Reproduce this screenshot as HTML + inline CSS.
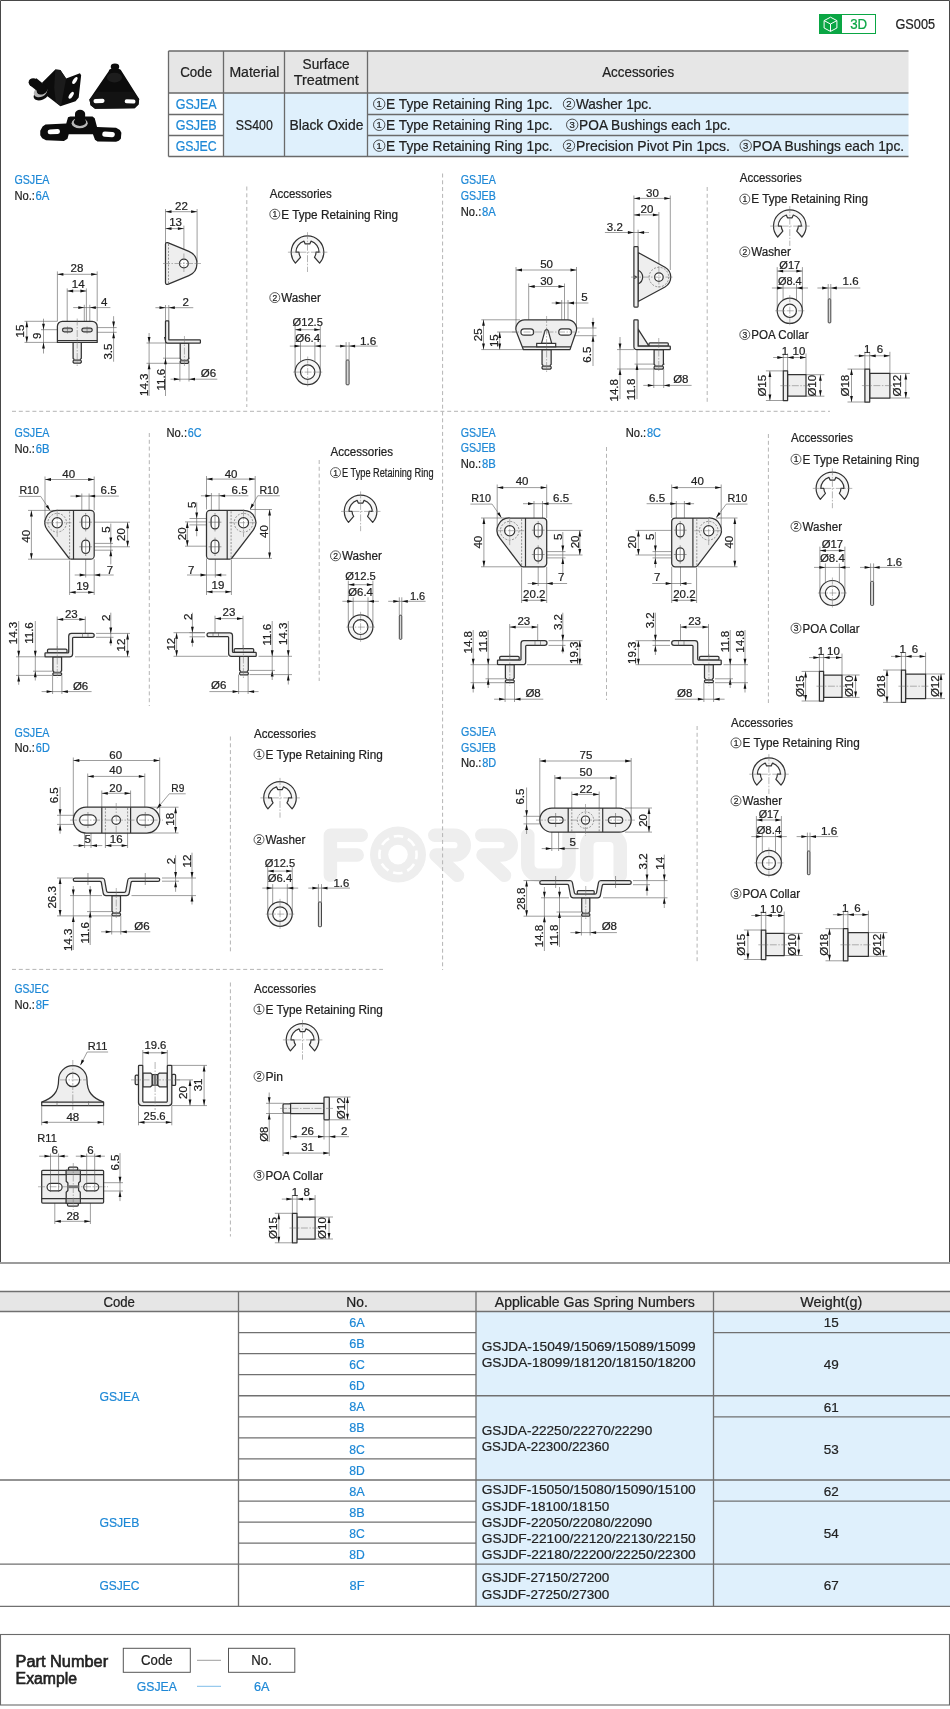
<!DOCTYPE html>
<html><head><meta charset="utf-8"><title>GS005</title><style>
html,body{margin:0;padding:0;background:#fff}
body{width:950px;height:1709px;overflow:hidden}
svg{display:block;will-change:transform;font-family:"Liberation Sans",sans-serif;fill:#222}
text{stroke:#222;stroke-width:.22px}
.t{stroke:#5a5a5a;stroke-width:.6;fill:none}
.o{stroke:#333;stroke-width:1.25;fill:#eee;stroke-linejoin:round}
.ol{stroke:#333;stroke-width:1.2;fill:#f5f5f5;stroke-linejoin:round}
.ow{stroke:#333;stroke-width:1.2;fill:#fff}
.on{stroke:#333;stroke-width:1.2;fill:none}
.a{fill:#111;stroke:none}
.c{stroke:#777;stroke-width:.55;fill:none;stroke-dasharray:7 1.5 1.5 1.5}
.d{stroke:#555;stroke-width:.6;fill:none;stroke-dasharray:2 1.4}
.sep{stroke:#b4b4b4;stroke-width:1;fill:none;stroke-dasharray:4 2.8}
</style></head><body>
<svg width="950" height="1709" viewBox="0 0 950 1709">
<path d="M0.5 1263V0.5H949.5V1263" fill="none" stroke="#484848" stroke-width="1"/>
<path d="M0 1263H950" fill="none" stroke="#9c9c9c" stroke-width="2"/>
<rect x="819.5" y="14.5" width="56" height="19" fill="#fff" stroke="#0aa644" stroke-width="1"/>
<rect x="819" y="14" width="23" height="20" fill="#0aa644"/>
<path d="M830.5 17.2l6.4 3.4v7.4l-6.4 3.4l-6.4-3.4v-7.4zM824.1 20.6l6.4 3.4l6.4-3.4M830.5 24v7.4" fill="none" stroke="#fff" stroke-width="1"/>
<text x="858.7" y="29.3" font-size="14.5" text-anchor="middle" textLength="17" lengthAdjust="spacingAndGlyphs" style="fill:#0aa644;stroke:#0aa644" stroke-width="0">3D</text>
<text x="895.5" y="29.3" font-size="14.5" textLength="39.5" lengthAdjust="spacingAndGlyphs">GS005</text>
<rect x="168.5" y="51" width="740.0" height="42" fill="#e6e6e6"/>
<rect x="223.5" y="93" width="685.0" height="63.5" fill="#dff0fc"/>
<path d="M168.5 51H908.5M168.5 93H908.5M168.5 156.5H908.5M168.5 114.5H223.5M168.5 135.5H223.5M367.5 114.5H908.5M367.5 135.5H908.5" stroke="#6a6a6a" stroke-width="1.3" fill="none"/>
<path d="M168.5 51V156.5M223.5 51V156.5M284.5 51V156.5M367.5 51V156.5" stroke="#6a6a6a" stroke-width="1.3" fill="none"/>
<text x="196.2" y="77.3" font-size="14.5" text-anchor="middle" textLength="32" lengthAdjust="spacingAndGlyphs">Code</text>
<text x="254.4" y="77.3" font-size="14.5" text-anchor="middle" textLength="50" lengthAdjust="spacingAndGlyphs">Material</text>
<text x="326.1" y="69" font-size="14.5" text-anchor="middle" textLength="47" lengthAdjust="spacingAndGlyphs">Surface</text>
<text x="326.3" y="85.4" font-size="14.5" text-anchor="middle" textLength="65" lengthAdjust="spacingAndGlyphs">Treatment</text>
<text x="638.2" y="77.3" font-size="14.5" text-anchor="middle" textLength="72" lengthAdjust="spacingAndGlyphs">Accessories</text>
<text x="196.2" y="108.7" font-size="14.5" text-anchor="middle" textLength="41" lengthAdjust="spacingAndGlyphs" style="fill:#1e88d6;stroke:#1e88d6">GSJEA</text>
<text x="196.2" y="129.6" font-size="14.5" text-anchor="middle" textLength="41" lengthAdjust="spacingAndGlyphs" style="fill:#1e88d6;stroke:#1e88d6">GSJEB</text>
<text x="196.2" y="150.5" font-size="14.5" text-anchor="middle" textLength="41" lengthAdjust="spacingAndGlyphs" style="fill:#1e88d6;stroke:#1e88d6">GSJEC</text>
<text x="254.3" y="129.6" font-size="14.5" text-anchor="middle" textLength="37" lengthAdjust="spacingAndGlyphs">SS400</text>
<text x="326.4" y="129.6" font-size="14.5" text-anchor="middle" textLength="74" lengthAdjust="spacingAndGlyphs">Black Oxide</text>
<circle cx="379.2" cy="103.9" r="5.7" fill="none" stroke="#333" stroke-width="0.85"/>
<text x="379.2" y="107.3" font-size="9.5" text-anchor="middle">1</text>
<text x="386.1" y="108.9" font-size="14.5" textLength="166.5" lengthAdjust="spacingAndGlyphs">E Type Retaining Ring 1pc.</text>
<circle cx="569.0" cy="103.9" r="5.7" fill="none" stroke="#333" stroke-width="0.85"/>
<text x="569.0" y="107.3" font-size="9.5" text-anchor="middle">2</text>
<text x="575.9" y="108.9" font-size="14.5" textLength="76" lengthAdjust="spacingAndGlyphs">Washer 1pc.</text>
<circle cx="379.2" cy="124.80000000000001" r="5.7" fill="none" stroke="#333" stroke-width="0.85"/>
<text x="379.2" y="128.2" font-size="9.5" text-anchor="middle">1</text>
<text x="386.1" y="129.8" font-size="14.5" textLength="166.5" lengthAdjust="spacingAndGlyphs">E Type Retaining Ring 1pc.</text>
<circle cx="572.2" cy="124.80000000000001" r="5.7" fill="none" stroke="#333" stroke-width="0.85"/>
<text x="572.2" y="128.2" font-size="9.5" text-anchor="middle">3</text>
<text x="579.1" y="129.8" font-size="14.5" textLength="151.5" lengthAdjust="spacingAndGlyphs">POA Bushings each 1pc.</text>
<circle cx="379.2" cy="145.7" r="5.7" fill="none" stroke="#333" stroke-width="0.85"/>
<text x="379.2" y="149.1" font-size="9.5" text-anchor="middle">1</text>
<text x="386.1" y="150.7" font-size="14.5" textLength="166.5" lengthAdjust="spacingAndGlyphs">E Type Retaining Ring 1pc.</text>
<circle cx="569.0" cy="145.7" r="5.7" fill="none" stroke="#333" stroke-width="0.85"/>
<text x="569.0" y="149.1" font-size="9.5" text-anchor="middle">2</text>
<text x="575.9" y="150.7" font-size="14.5" textLength="154" lengthAdjust="spacingAndGlyphs">Precision Pivot Pin 1pcs.</text>
<circle cx="745.7" cy="145.7" r="5.7" fill="none" stroke="#333" stroke-width="0.85"/>
<text x="745.7" y="149.1" font-size="9.5" text-anchor="middle">3</text>
<text x="752.6" y="150.7" font-size="14.5" textLength="151.5" lengthAdjust="spacingAndGlyphs">POA Bushings each 1pc.</text>
<g transform="translate(20,55) scale(0.13684)">
<path d="M161 203L258 106L295 109L337 171L438 134L447 148L429 310L406 338L295 374L258 346L198 300Z" fill="#0c0c0c"/>
<path d="M258 106L295 109L337 171L300 372L262 348L250 240Z" fill="#1b1b1b"/>
<ellipse cx="401" cy="186" rx="13" ry="29" transform="rotate(33 401 186)" fill="#fff"/>
<ellipse cx="374" cy="294" rx="13" ry="29" transform="rotate(33 374 294)" fill="#fff"/>
<ellipse cx="155" cy="292" rx="58" ry="36" transform="rotate(-22 155 292)" fill="#0c0c0c"/>
<ellipse cx="150" cy="268" rx="53" ry="37" transform="rotate(-28 150 268)" fill="#b4b4b4"/>
<ellipse cx="162" cy="256" rx="42" ry="30" transform="rotate(-28 162 256)" fill="#0c0c0c"/>
<path d="M68 218L120 170L196 232L150 284Z" fill="#0c0c0c"/><ellipse cx="97" cy="199" rx="34" ry="30" fill="#0c0c0c"/>
<path d="M652 108L668 98L718 98L736 108L871 322L866 362L838 390L548 392L516 367L507 325L648 118Z" fill="#0c0c0c"/>
<path d="M562 268L826 268L871 322L866 362L838 390L548 392L516 367L507 325Z" fill="#131313"/>
<rect x="537" y="320" width="81" height="31" rx="15" transform="rotate(-2 577 335)" fill="#fff"/>
<rect x="765" y="325" width="79" height="29" rx="14.5" transform="rotate(2 804 339)" fill="#fff"/>
<ellipse cx="690" cy="165" rx="55" ry="36" fill="#1d1d1d"/>
<ellipse cx="694" cy="86" rx="31" ry="23" fill="#0c0c0c"/>
<path d="M148 553L165 522L186 507L338 501L351 455L368 449L530 449L546 462L563 527L702 531L730 548L741 568L737 612L722 627L702 634L566 632L548 620L533 579L356 579L347 612L321 629L190 623L162 608L148 587Z" fill="#0c0c0c"/>
<rect x="202" y="543" width="90" height="35" rx="17" transform="rotate(-3 247 560)" fill="#fff"/>
<rect x="601" y="561" width="92" height="38" rx="19" transform="rotate(3 647 580)" fill="#fff"/>
<ellipse cx="436" cy="498" rx="59" ry="38" fill="#b9b9b9"/>
<ellipse cx="438" cy="490" rx="45" ry="28" fill="#0c0c0c"/>
<path d="M402 430L402 492L476 492L476 430Z" fill="#0c0c0c"/><ellipse cx="439" cy="430" rx="37" ry="29" fill="#0c0c0c"/>
</g>
<g fill="none" stroke="#eeeeee" stroke-width="13.5" stroke-linecap="round" stroke-linejoin="round">
<path d="M330.4 875.3V835.3H361.2M330.4 855H357.2"/>
<path d="M434.8 835.3H454.4a9.85 9.85 0 0 1 0 19.7H436L457.5 875.3"/>
<path d="M481.8 835.3H501.4a9.85 9.85 0 0 1 0 19.7H483L504.5 875.3"/>
<path d="M527.8 835.3V864.3a11 11 0 0 0 11 11H558a11 11 0 0 0 11 -11V835.3"/>
<path d="M586.8 875.3V846a10.7 10.7 0 0 1 10.7 -10.7H609.5a10.7 10.7 0 0 1 10.7 10.7V875.3"/>
</g>
<circle cx="398" cy="854.6" r="28" fill="#eeeeee"/>
<circle cx="398" cy="854.6" r="9.8" fill="#fff"/>
<circle cx="398" cy="854.6" r="18.6" fill="none" stroke="#fff" stroke-width="2.6" stroke-dasharray="9.6 5" stroke-dashoffset="4.8"/>
<path class="sep" d="M246.8 186.5L246.8 407"/>
<path class="sep" d="M442.6 173.5L442.6 970"/>
<path class="sep" d="M707.2 187L707.2 402"/>
<path class="sep" d="M12 411.3L830 411.3"/>
<text x="14.4" y="184.4" font-size="12" textLength="35" lengthAdjust="spacingAndGlyphs" style="fill:#1e88d6;stroke:#1e88d6">GSJEA</text>
<text x="14.4" y="199.8" font-size="12" textLength="20.5" lengthAdjust="spacingAndGlyphs">No.:</text>
<text x="35.6" y="199.8" font-size="12" textLength="13.8" lengthAdjust="spacingAndGlyphs" style="fill:#1e88d6;stroke:#1e88d6">6A</text>
<path class="t" d="M57.4 271.4L57.4 321.3"/>
<path class="t" d="M97.2 271.4L97.2 321.3"/>
<path class="t" d="M57.4 274.3L97.2 274.3"/>
<path class="a" d="M57.4 274.3l6.0 -1.4v2.8z"/>
<path class="a" d="M97.2 274.3l-6.0 -1.4v2.8z"/>
<text x="77" y="272.3" font-size="11.5" text-anchor="middle">28</text>
<path class="t" d="M67.2 288.4L67.2 329.7"/>
<path class="t" d="M86.4 288.4L86.4 329.7"/>
<path class="t" d="M67.2 291L86.4 291"/>
<path class="a" d="M67.2 291l6.0 -1.4v2.8z"/>
<path class="a" d="M86.4 291l-6.0 -1.4v2.8z"/>
<text x="78.2" y="287.9" font-size="11.5" text-anchor="middle">14</text>
<path class="t" d="M84.3 304.8L84.3 328"/>
<path class="t" d="M89.8 304.8L89.8 328"/>
<path class="t" d="M73.2 307.6L110.4 307.6"/>
<path class="a" d="M84.3 307.6l-6.0 -1.4v2.8z"/>
<path class="a" d="M89.8 307.6l6.0 -1.4v2.8z"/>
<text x="104.1" y="305.5" font-size="11.5" text-anchor="middle">4</text>
<path class="t" d="M24.5 321.3L57.4 321.3"/>
<path class="t" d="M24.5 342.4L57.4 342.4"/>
<path class="t" d="M26.8 321.3L26.8 342.4"/>
<path class="a" d="M26.8 321.3l-1.4 6.0h2.8z"/>
<path class="a" d="M26.8 342.4l-1.4 -6.0h2.8z"/>
<text transform="translate(19.5,331) rotate(-90)" y="4.1" font-size="11.5" text-anchor="middle">15</text>
<path class="t" d="M41 329.7L62 329.7"/>
<path class="t" d="M43.5 318.7L43.5 353.5"/>
<path class="a" d="M43.5 329.7l-1.4 -6.0h2.8z"/>
<path class="a" d="M43.5 342.4l-1.4 6.0h2.8z"/>
<text transform="translate(37.2,335.9) rotate(-90)" y="4.1" font-size="11.5" text-anchor="middle">9</text>
<path class="t" d="M92.7 327.6L116.7 327.6"/>
<path class="t" d="M92.7 332.3L116.7 332.3"/>
<path class="t" d="M113.6 316.2L113.6 361.7"/>
<path class="a" d="M113.6 327.6l-1.4 -6.0h2.8z"/>
<path class="a" d="M113.6 332.3l-1.4 6.0h2.8z"/>
<text transform="translate(107.9,351.6) rotate(-90)" y="4.1" font-size="11.5" text-anchor="middle">3.5</text>
<path class="o" d="M73.10000000000001 342.4V358.4l0.9 0.9v1l-0.9 0.7v1.2l0.8 0.8H80.5l0.8 -0.8v-1.2l-0.9 -0.7v-1l0.9 -0.9V342.4Z"/>
<rect x="74.00000000000001" y="359.3" width="6.4" height="1.9" fill="#666"/>
<path class="o" d="M57.4 342.4V326.3a5 5 0 0 1 5-5H92.2a5 5 0 0 1 5 5V342.4Z"/>
<path class="on" d="M57.4 340.5L97.2 340.5"/>
<rect class="ow" x="62.5" y="328.1" width="9.9" height="3.7" rx="1.85"/>
<rect class="ow" x="81.9" y="328.1" width="10.3" height="3.7" rx="1.85"/>
<path class="c" d="M77.2 318.5V366"/>
<path class="t" d="M62 329.95H73M81 329.95H93M67.45 326.5V333.5M87.05 326.5V333.5"/>
<path class="t" d="M165.5 209L165.5 243"/>
<path class="t" d="M197.1 209L197.1 262"/>
<path class="t" d="M165.5 211.7L197.1 211.7"/>
<path class="a" d="M165.5 211.7l6.0 -1.4v2.8z"/>
<path class="a" d="M197.1 211.7l-6.0 -1.4v2.8z"/>
<text x="181.4" y="210.4" font-size="11.5" text-anchor="middle">22</text>
<path class="t" d="M183.9 225.6L183.9 259"/>
<path class="t" d="M165.5 228.6L183.9 228.6"/>
<path class="a" d="M165.5 228.6l6.0 -1.4v2.8z"/>
<path class="a" d="M183.9 228.6l-6.0 -1.4v2.8z"/>
<text x="175.6" y="225.7" font-size="11.5" text-anchor="middle">13</text>
<path class="o" d="M165.5 244.2a1.7 1.7 0 0 1 2.2-1.6L188.9 251.4A13.2 13.2 0 0 1 188.9 275.7L167.7 284.4a1.7 1.7 0 0 1-2.2-1.6Z"/>
<circle class="ow" cx="183.9" cy="263.5" r="4.4"/>
<path class="d" d="M168.5 244L168.5 283"/>
<path class="c" d="M163 263.5H201M183.9 253.5V273.5"/>
<path class="t" d="M165.5 305L165.5 321"/>
<path class="t" d="M168.8 305L168.8 321"/>
<path class="t" d="M155.4 307.7L193.3 307.7"/>
<path class="a" d="M165.5 307.7l-6.0 -1.4v2.8z"/>
<path class="a" d="M168.8 307.7l6.0 -1.4v2.8z"/>
<text x="185.7" y="305.7" font-size="11.5" text-anchor="middle">2</text>
<path class="t" d="M146.5 343L180 343"/>
<path class="t" d="M146.5 363.3L180 363.3"/>
<path class="t" d="M149.1 333L149.1 396"/>
<path class="a" d="M149.1 343l-1.4 -6.0h2.8z"/>
<path class="a" d="M149.1 363.3l-1.4 6.0h2.8z"/>
<text transform="translate(143.5,384.8) rotate(-90)" y="4.1" font-size="11.5" text-anchor="middle">14.3</text>
<path class="t" d="M163 358.2L190 358.2"/>
<path class="t" d="M165.5 343L165.5 396"/>
<path class="a" d="M165.5 343l-1.4 -6.0h2.8z"/>
<path class="a" d="M165.5 358.2l-1.4 6.0h2.8z"/>
<text transform="translate(160.4,379.7) rotate(-90)" y="4.1" font-size="11.5" text-anchor="middle">11.6</text>
<path class="t" d="M179.9 363.3L179.9 381.5"/>
<path class="t" d="M189 363.3L189 381.5"/>
<path class="t" d="M170.5 379.2L217.3 379.2"/>
<path class="a" d="M179.9 379.2l-6.0 -1.4v2.8z"/>
<path class="a" d="M189 379.2l6.0 -1.4v2.8z"/>
<text x="208.4" y="377.2" font-size="11.5" text-anchor="middle">Ø6</text>
<path class="o" d="M180.2 343V358.7l0.9 0.9v1l-0.9 0.7v1.2l0.8 0.8H187.89999999999998l0.8 -0.8v-1.2l-0.9 -0.7v-1l0.9 -0.9V343Z"/>
<rect x="181.1" y="359.6" width="6.7" height="1.9" fill="#666"/>
<path class="o" d="M165.5 321.5a0.6 0.6 0 0 1 .6-.6H168.2a.6 .6 0 0 1 .6 .6V339.8H199.8a.6 .6 0 0 1 .6 .6V342.4a.6 .6 0 0 1-.6 .6H167.5a2 2 0 0 1-2-2Z"/>
<path class="c" d="M184.45 336V366"/>
<text x="269.8" y="197.9" font-size="12" textLength="61.9" lengthAdjust="spacingAndGlyphs">Accessories</text>
<circle cx="274.8" cy="214.2" r="5" fill="none" stroke="#333" stroke-width="0.8"/>
<text x="274.8" y="217.1" font-size="8.5" text-anchor="middle">1</text>
<text x="281.3" y="218.5" font-size="12" textLength="116.7" lengthAdjust="spacingAndGlyphs">E Type Retaining Ring</text>
<g transform="translate(307.5,252.2)"><path class="ol" d="M-12.1 10.9A16.3 16.3 0 1 1 12.1 10.9L6.95 5.05A8.6 8.6 0 0 0 8.5 0H11.6A11.6 11.6 0 0 0 3.5 -11.05L2.3 -8.3H-2.3L-3.5 -11.05A11.6 11.6 0 0 0 -11.6 0H-8.5A8.6 8.6 0 0 0 -6.95 5.05Z"/><path class="c" d="M-19.6 0H19.9M0 -20V19.8"/></g>
<circle cx="274.8" cy="297.59999999999997" r="5" fill="none" stroke="#333" stroke-width="0.8"/>
<text x="274.8" y="300.5" font-size="8.5" text-anchor="middle">2</text>
<text x="281.3" y="301.9" font-size="12" textLength="39.5" lengthAdjust="spacingAndGlyphs">Washer</text>
<text x="307.7" y="325.9" font-size="11.5" text-anchor="middle" textLength="30.3" lengthAdjust="spacingAndGlyphs">Ø12.5</text>
<path class="t" d="M295.09999999999997 325.7L295.09999999999997 372.1"/>
<path class="t" d="M320.3 325.7L320.3 372.1"/>
<path class="t" d="M295.09999999999997 329.7L320.3 329.7"/>
<path class="a" d="M295.09999999999997 329.7l6.0 -1.4v2.8z"/>
<path class="a" d="M320.3 329.7l-6.0 -1.4v2.8z"/>
<text x="307.7" y="341.9" font-size="11.5" text-anchor="middle" textLength="25" lengthAdjust="spacingAndGlyphs">Ø6.4</text>
<path class="t" d="M300.5 342.1L300.5 372.1"/>
<path class="t" d="M314.9 342.1L314.9 372.1"/>
<path class="t" d="M289.8 346.1L325.9 346.1"/>
<path class="a" d="M300.5 346.1l-6.0 -1.4v2.8z"/>
<path class="a" d="M314.9 346.1l6.0 -1.4v2.8z"/>
<circle class="ol" cx="307.7" cy="372.1" r="12.6"/>
<circle class="ow" cx="307.7" cy="372.1" r="7.2"/>
<path class="c" d="M293.09999999999997 372.1H322.3M307.7 356.5V387.70000000000005"/>
<path class="t" d="M346.1 342.1L346.1 360"/>
<path class="t" d="M349.1 342.1L349.1 360"/>
<path class="t" d="M335.5 346.1L377.7 346.1"/>
<path class="a" d="M346.1 346.1l-6.0 -1.4v2.8z"/>
<path class="a" d="M349.1 346.1l6.0 -1.4v2.8z"/>
<text x="360" y="344.8" font-size="11.5" textLength="16.4" lengthAdjust="spacingAndGlyphs">1.6</text>
<rect x="346.1" y="360" width="3.0" height="24.8" rx="0.8" fill="#d8d8d8" stroke="#333" stroke-width="0.9"/>
<text x="460.8" y="183.7" font-size="12" textLength="35" lengthAdjust="spacingAndGlyphs" style="fill:#1e88d6;stroke:#1e88d6">GSJEA</text>
<text x="460.8" y="199.8" font-size="12" textLength="35" lengthAdjust="spacingAndGlyphs" style="fill:#1e88d6;stroke:#1e88d6">GSJEB</text>
<text x="460.8" y="215.6" font-size="12" textLength="20.5" lengthAdjust="spacingAndGlyphs">No.:</text>
<text x="482" y="215.6" font-size="12" textLength="13.8" lengthAdjust="spacingAndGlyphs" style="fill:#1e88d6;stroke:#1e88d6">8A</text>
<path class="t" d="M516 267L516 330"/>
<path class="t" d="M576.5 267L576.5 330"/>
<path class="t" d="M516 270L576.5 270"/>
<path class="a" d="M516 270l6.0 -1.4v2.8z"/>
<path class="a" d="M576.5 270l-6.0 -1.4v2.8z"/>
<text x="546.6" y="268" font-size="11.5" text-anchor="middle">50</text>
<path class="t" d="M528.7 283.5L528.7 332"/>
<path class="t" d="M564.5 283.5L564.5 332"/>
<path class="t" d="M528.7 286.5L564.5 286.5"/>
<path class="a" d="M528.7 286.5l6.0 -1.4v2.8z"/>
<path class="a" d="M564.5 286.5l-6.0 -1.4v2.8z"/>
<text x="546.6" y="284.5" font-size="11.5" text-anchor="middle">30</text>
<path class="t" d="M561.7 300L561.7 330"/>
<path class="t" d="M568 300L568 330"/>
<path class="t" d="M551.7 303L588.4 303"/>
<path class="a" d="M561.7 303l-6.0 -1.4v2.8z"/>
<path class="a" d="M568 303l6.0 -1.4v2.8z"/>
<text x="584.4" y="300.8" font-size="11.5" text-anchor="middle">5</text>
<path class="t" d="M481.3 319.8L520 319.8"/>
<path class="t" d="M481.3 349.6L523.3 349.6"/>
<path class="t" d="M483.5 319.8L483.5 349.6"/>
<path class="a" d="M483.5 319.8l-1.4 6.0h2.8z"/>
<path class="a" d="M483.5 349.6l-1.4 -6.0h2.8z"/>
<text transform="translate(477.6,334.8) rotate(-90)" y="4.1" font-size="11.5" text-anchor="middle">25</text>
<path class="t" d="M497 332L527 332"/>
<path class="t" d="M499.7 332L499.7 349.6"/>
<path class="a" d="M499.7 332l-1.4 6.0h2.8z"/>
<path class="a" d="M499.7 349.6l-1.4 -6.0h2.8z"/>
<text transform="translate(493.5,340.7) rotate(-90)" y="4.1" font-size="11.5" text-anchor="middle">15</text>
<path class="t" d="M572 328L596.5 328"/>
<path class="t" d="M572 335.7L596.5 335.7"/>
<path class="t" d="M593 317.8L593 366"/>
<path class="a" d="M593 328l-1.4 -6.0h2.8z"/>
<path class="a" d="M593 335.7l-1.4 6.0h2.8z"/>
<text transform="translate(587.3,354.7) rotate(-90)" y="4.1" font-size="11.5" text-anchor="middle">6.5</text>
<path class="o" d="M542.0500000000001 349.6V364.4l0.9 0.9v1l-0.9 0.7v1.2l0.8 0.8H550.35l0.8 -0.8v-1.2l-0.9 -0.7v-1l0.9 -0.9V349.6Z"/>
<rect x="542.95" y="365.3" width="7.3" height="1.9" fill="#666"/>
<path class="o" d="M523.3 349.6L516.3 331.5A9 9 0 0 1 524.6 319.8H567.9A9 9 0 0 1 576.2 331.5L570 349.6Z"/>
<path class="on" d="M522.3 346.8L571 346.8"/>
<rect class="ow" x="520.9" y="328.8" width="12.8" height="6.4" rx="3.2"/>
<rect class="ow" x="558.7" y="328.8" width="12.8" height="6.4" rx="3.2"/>
<path class="ow" d="M546.6 329.2l1.6 1.4L551.7 343.4H541.5L545 330.6Z"/>
<rect class="ow" x="536.7" y="343.4" width="19" height="3.4"/>
<path class="c" d="M546.6 316V372M512 332H581"/>
<path class="t" d="M633.9 195.5L633.9 246.7"/>
<path class="t" d="M670.3 195.5L670.3 270"/>
<path class="t" d="M633.9 198.4L670.3 198.4"/>
<path class="a" d="M633.9 198.4l6.0 -1.4v2.8z"/>
<path class="a" d="M670.3 198.4l-6.0 -1.4v2.8z"/>
<text x="652.4" y="197" font-size="11.5" text-anchor="middle">30</text>
<path class="t" d="M658.9 212L658.9 272"/>
<path class="t" d="M633.9 214.9L658.9 214.9"/>
<path class="a" d="M633.9 214.9l6.0 -1.4v2.8z"/>
<path class="a" d="M658.9 214.9l-6.0 -1.4v2.8z"/>
<text x="647" y="213.2" font-size="11.5" text-anchor="middle">20</text>
<path class="t" d="M638.1 229.7L638.1 246.7"/>
<path class="t" d="M604.9 232.5L649 232.5"/>
<path class="a" d="M633.9 232.5l-6.0 -1.4v2.8z"/>
<path class="a" d="M638.1 232.5l6.0 -1.4v2.8z"/>
<text x="614.8" y="230.5" font-size="11.5" text-anchor="middle">3.2</text>
<path class="o" d="M638.1 252.5L665 267.2A11.4 11.4 0 0 1 665 287L638.1 301.5Z"/>
<rect class="o" x="633.9" y="246.7" width="4.2" height="60.3" rx="0.8"/>
<circle class="ow" cx="658.9" cy="277.1" r="4.3"/>
<circle class="d" cx="658.9" cy="277.1" r="9.8"/>
<path class="on" d="M638.1 270.2A7.5 7.5 0 0 1 638.1 284"/>
<path class="on" d="M634.3 275.8L636.4 277.1L634.3 278.4"/>
<path class="c" d="M631 277.1H674M658.9 266V288"/>
<path class="t" d="M617 349.6L634 349.6"/>
<path class="t" d="M617 369L654 369"/>
<path class="t" d="M620 337L620 399"/>
<path class="a" d="M620 349.6l-1.4 -6.0h2.8z"/>
<path class="a" d="M620 369l-1.4 6.0h2.8z"/>
<text transform="translate(614.3,390.3) rotate(-90)" y="4.1" font-size="11.5" text-anchor="middle">14.8</text>
<path class="t" d="M634.5 364.1L665 364.1"/>
<path class="t" d="M637 349.6L637 399"/>
<path class="a" d="M637 349.6l-1.4 -6.0h2.8z"/>
<path class="a" d="M637 364.1l-1.4 6.0h2.8z"/>
<text transform="translate(631.3,389.4) rotate(-90)" y="4.1" font-size="11.5" text-anchor="middle">11.8</text>
<path class="t" d="M653.8 369L653.8 388"/>
<path class="t" d="M663.7 369L663.7 388"/>
<path class="t" d="M643.3 385.4L691.6 385.4"/>
<path class="a" d="M653.8 385.4l-6.0 -1.4v2.8z"/>
<path class="a" d="M663.7 385.4l6.0 -1.4v2.8z"/>
<text x="680.8" y="383.2" font-size="11.5" text-anchor="middle">Ø8</text>
<path class="o" d="M654.1 349.6V364.4l0.9 0.9v1l-0.9 0.7v1.2l0.8 0.8H662.6l0.8 -0.8v-1.2l-0.9 -0.7v-1l0.9 -0.9V349.6Z"/>
<rect x="655.0" y="365.3" width="7.5" height="1.9" fill="#666"/>
<path class="o" d="M638.1 329.2L649 346.2H638.1Z"/>
<rect class="o" x="649" y="342.8" width="19.3" height="3.4" rx="1"/>
<path class="o" d="M633.9 320.4a.6 .6 0 0 1 .6-.6H637.5a.6 .6 0 0 1 .6 .6V346.2H669.7a.6 .6 0 0 1 .6 .6V349a.6 .6 0 0 1-.6 .6H637.1a3.2 3.2 0 0 1-3.2-3.2Z"/>
<path class="c" d="M658.75 338V372"/>
<text x="739.8" y="182.3" font-size="12" textLength="61.9" lengthAdjust="spacingAndGlyphs">Accessories</text>
<circle cx="744.8" cy="199.1" r="5" fill="none" stroke="#333" stroke-width="0.8"/>
<text x="744.8" y="202.0" font-size="8.5" text-anchor="middle">1</text>
<text x="751.3" y="203.4" font-size="12" textLength="116.7" lengthAdjust="spacingAndGlyphs">E Type Retaining Ring</text>
<g transform="translate(789.8,226.1)"><path class="ol" d="M-12.1 10.9A16.3 16.3 0 1 1 12.1 10.9L6.95 5.05A8.6 8.6 0 0 0 8.5 0H11.6A11.6 11.6 0 0 0 3.5 -11.05L2.3 -8.3H-2.3L-3.5 -11.05A11.6 11.6 0 0 0 -11.6 0H-8.5A8.6 8.6 0 0 0 -6.95 5.05Z"/><path class="c" d="M-19.6 0H19.9M0 -20V19.8"/></g>
<circle cx="744.8" cy="251.8" r="5" fill="none" stroke="#333" stroke-width="0.8"/>
<text x="744.8" y="254.7" font-size="8.5" text-anchor="middle">2</text>
<text x="751.3" y="256.1" font-size="12" textLength="39.5" lengthAdjust="spacingAndGlyphs">Washer</text>
<text x="789.8" y="268.6" font-size="11.5" text-anchor="middle" textLength="21" lengthAdjust="spacingAndGlyphs">Ø17</text>
<path class="t" d="M777.1999999999999 267.1L777.1999999999999 310.8"/>
<path class="t" d="M802.4 267.1L802.4 310.8"/>
<path class="t" d="M777.1999999999999 271.1L802.4 271.1"/>
<path class="a" d="M777.1999999999999 271.1l6.0 -1.4v2.8z"/>
<path class="a" d="M802.4 271.1l-6.0 -1.4v2.8z"/>
<text x="789.8" y="285" font-size="11.5" text-anchor="middle" textLength="23.8" lengthAdjust="spacingAndGlyphs">Ø8.4</text>
<path class="t" d="M783.0999999999999 284L783.0999999999999 310.8"/>
<path class="t" d="M796.5 284L796.5 310.8"/>
<path class="t" d="M771.9 288L808 288"/>
<path class="a" d="M783.0999999999999 288l-6.0 -1.4v2.8z"/>
<path class="a" d="M796.5 288l6.0 -1.4v2.8z"/>
<circle class="ol" cx="789.8" cy="310.8" r="12.6"/>
<circle class="ow" cx="789.8" cy="310.8" r="6.7"/>
<path class="c" d="M775.1999999999999 310.8H804.4M789.8 295.2V326.40000000000003"/>
<path class="t" d="M828.2 284L828.2 298.9"/>
<path class="t" d="M830.8 284L830.8 298.9"/>
<path class="t" d="M817.4 288L860.3 288"/>
<path class="a" d="M828.2 288l-6.0 -1.4v2.8z"/>
<path class="a" d="M830.8 288l6.0 -1.4v2.8z"/>
<text x="842.6" y="285" font-size="11.5" textLength="16" lengthAdjust="spacingAndGlyphs">1.6</text>
<rect x="828.2" y="298.9" width="2.6" height="24.0" rx="0.8" fill="#d8d8d8" stroke="#333" stroke-width="0.9"/>
<circle cx="744.8" cy="334.59999999999997" r="5" fill="none" stroke="#333" stroke-width="0.8"/>
<text x="744.8" y="337.5" font-size="8.5" text-anchor="middle">3</text>
<text x="751.3" y="338.9" font-size="12" textLength="57.2" lengthAdjust="spacingAndGlyphs">POA Collar</text>
<path class="t" d="M783.3 353.5L783.3 370.9"/>
<path class="t" d="M787.6 353.5L787.6 370.9"/>
<path class="t" d="M806 353.5L806 374.7"/>
<path class="t" d="M773.2 357.5L806 357.5"/>
<path class="a" d="M783.3 357.5l-6.0 -1.4v2.8z"/>
<path class="a" d="M787.6 357.5l6.0 -1.4v2.8z"/>
<path class="a" d="M806 357.5l-6.0 -1.4v2.8z"/>
<text x="785" y="354.5" font-size="11.5" text-anchor="middle">1</text>
<text x="799" y="354.5" font-size="11.5" text-anchor="middle">10</text>
<path class="t" d="M765.9 370.9L783.3 370.9"/>
<path class="t" d="M765.9 400.5L783.3 400.5"/>
<path class="t" d="M769.9 370.9L769.9 400.5"/>
<path class="a" d="M769.9 370.9l-1.4 6.0h2.8z"/>
<path class="a" d="M769.9 400.5l-1.4 -6.0h2.8z"/>
<text transform="translate(762.3,385.7) rotate(-90)" y="4.1" font-size="11.5" text-anchor="middle">Ø15</text>
<path class="t" d="M806 374.7L824.4 374.7"/>
<path class="t" d="M806 396.2L824.4 396.2"/>
<path class="t" d="M820.4 374.7L820.4 396.2"/>
<path class="a" d="M820.4 374.7l-1.4 6.0h2.8z"/>
<path class="a" d="M820.4 396.2l-1.4 -6.0h2.8z"/>
<text transform="translate(811.8,385.7) rotate(-90)" y="4.1" font-size="11.5" text-anchor="middle">Ø10</text>
<rect class="o" x="787.6" y="374.7" width="18.4" height="21.5"/>
<rect class="o" x="783.3" y="370.9" width="4.3" height="29.6"/>
<path class="c" d="M780.3 385.7H809"/>
<path class="t" d="M864.9 351.8L864.9 369.1"/>
<path class="t" d="M869.7 351.8L869.7 369.1"/>
<path class="t" d="M889.9 351.8L889.9 373.4"/>
<path class="t" d="M854.5 355.8L889.9 355.8"/>
<path class="a" d="M864.9 355.8l-6.0 -1.4v2.8z"/>
<path class="a" d="M869.7 355.8l6.0 -1.4v2.8z"/>
<path class="a" d="M889.9 355.8l-6.0 -1.4v2.8z"/>
<text x="867.2" y="352.6" font-size="11.5" text-anchor="middle">1</text>
<text x="880" y="352.6" font-size="11.5" text-anchor="middle">6</text>
<path class="t" d="M847.5 369.1L864.9 369.1"/>
<path class="t" d="M847.5 402L864.9 402"/>
<path class="t" d="M851.5 369.1L851.5 402"/>
<path class="a" d="M851.5 369.1l-1.4 6.0h2.8z"/>
<path class="a" d="M851.5 402l-1.4 -6.0h2.8z"/>
<text transform="translate(844.7,385.6) rotate(-90)" y="4.1" font-size="11.5" text-anchor="middle">Ø18</text>
<path class="t" d="M889.9 373.4L909.8 373.4"/>
<path class="t" d="M889.9 398L909.8 398"/>
<path class="t" d="M905.8 373.4L905.8 398"/>
<path class="a" d="M905.8 373.4l-1.4 6.0h2.8z"/>
<path class="a" d="M905.8 398l-1.4 -6.0h2.8z"/>
<text transform="translate(897,385.6) rotate(-90)" y="4.1" font-size="11.5" text-anchor="middle">Ø12</text>
<rect class="o" x="869.7" y="373.4" width="20.2" height="24.6"/>
<rect class="o" x="864.9" y="369.1" width="4.8" height="32.9"/>
<path class="c" d="M861.9 385.6H892.9"/>
<path class="sep" d="M149.3 433L149.3 706"/>
<path class="sep" d="M319.2 460L319.2 681"/>
<path class="sep" d="M606.5 447L606.5 700"/>
<path class="sep" d="M768.4 434L768.4 703"/>
<text x="14.4" y="436.5" font-size="12" textLength="35" lengthAdjust="spacingAndGlyphs" style="fill:#1e88d6;stroke:#1e88d6">GSJEA</text>
<text x="14.4" y="452.7" font-size="12" textLength="20.5" lengthAdjust="spacingAndGlyphs">No.:</text>
<text x="35.8" y="452.7" font-size="12" textLength="13.8" lengthAdjust="spacingAndGlyphs" style="fill:#1e88d6;stroke:#1e88d6">6B</text>
<path class="t" d="M45 476.5L45 522"/>
<path class="t" d="M94.2 476.5L94.2 510.4"/>
<path class="t" d="M45 479.5L94.2 479.5"/>
<path class="a" d="M45 479.5l6.0 -1.4v2.8z"/>
<path class="a" d="M94.2 479.5l-6.0 -1.4v2.8z"/>
<text x="68.7" y="478.1" font-size="11.5" text-anchor="middle">40</text>
<text x="29.2" y="493.9" font-size="11.5" text-anchor="middle" textLength="19.5" lengthAdjust="spacingAndGlyphs">R10</text>
<path class="t" d="M18.7 496.4L40.7 496.4"/>
<path class="t" d="M40.7 496.4L49.9 510.2"/>
<path class="a" transform="translate(50.2,510.8) rotate(56)" d="M0 0l-6.0 -1.4v2.8z"/>
<path class="t" d="M81.8 493.5L81.8 517"/>
<path class="t" d="M89.1 493.5L89.1 517"/>
<path class="t" d="M70.4 496.1L118.8 496.1"/>
<path class="a" d="M81.8 496.1l-6.0 -1.4v2.8z"/>
<path class="a" d="M89.1 496.1l6.0 -1.4v2.8z"/>
<text x="108.6" y="494.4" font-size="11.5" text-anchor="middle">6.5</text>
<path class="t" d="M28 510.4L57 510.4"/>
<path class="t" d="M28 559.2L70 559.2"/>
<path class="t" d="M31.4 510.4L31.4 559.2"/>
<path class="a" d="M31.4 510.4l-1.4 6.0h2.8z"/>
<path class="a" d="M31.4 559.2l-1.4 -6.0h2.8z"/>
<text transform="translate(25.4,536.3) rotate(-90)" y="4.1" font-size="11.5" text-anchor="middle">40</text>
<path class="t" d="M90 522.2L130 522.2"/>
<path class="t" d="M90 546.8L130 546.8"/>
<path class="t" d="M127.6 522.2L127.6 546.8"/>
<path class="a" d="M127.6 522.2l-1.4 6.0h2.8z"/>
<path class="a" d="M127.6 546.8l-1.4 -6.0h2.8z"/>
<text transform="translate(121.3,534.6) rotate(-90)" y="4.1" font-size="11.5" text-anchor="middle">20</text>
<path class="t" d="M90 543.4L113 543.4"/>
<path class="t" d="M90 550.2L113 550.2"/>
<path class="t" d="M110.8 523.6L110.8 564.4"/>
<path class="a" d="M110.8 543.4l-1.4 -6.0h2.8z"/>
<path class="a" d="M110.8 550.2l-1.4 6.0h2.8z"/>
<text transform="translate(106,529.5) rotate(-90)" y="4.1" font-size="11.5" text-anchor="middle">5</text>
<path class="t" d="M85.7 556L85.7 577.5"/>
<path class="t" d="M94.2 559.2L94.2 595"/>
<path class="t" d="M74.7 575L113.7 575"/>
<path class="a" d="M85.7 575l-6.0 -1.4v2.8z"/>
<path class="a" d="M94.2 575l6.0 -1.4v2.8z"/>
<text x="110" y="573.6" font-size="11.5" text-anchor="middle">7</text>
<path class="t" d="M69.6 560.5L69.6 595"/>
<path class="t" d="M69.6 592.3L94.2 592.3"/>
<path class="a" d="M69.6 592.3l6.0 -1.4v2.8z"/>
<path class="a" d="M94.2 592.3l-6.0 -1.4v2.8z"/>
<text x="82.6" y="589.9" font-size="11.5" text-anchor="middle">19</text>
<path class="o" d="M57.2 510.4A12.2 12.2 0 0 0 47.48 530.08L68.8 558.0Q69.6 559.2 71.1 559.2H90.7a3.5 3.5 0 0 0 3.5 -3.5V513.9a3.5 3.5 0 0 0 -3.5 -3.5Z"/>
<path class="on" d="M73.5 510.4L73.5 559.2"/>
<path class="d" d="M69.6 511.4L69.6 558.2"/>
<circle class="d" cx="57.2" cy="522.7" r="9.3"/>
<circle class="ow" cx="57.2" cy="522.7" r="5.1"/>
<rect class="ow" x="81.8" y="515.5" width="7.8" height="13.4" rx="3.9"/>
<rect class="ow" x="81.8" y="540.1" width="7.8" height="13.4" rx="3.9"/>
<path class="c" d="M44.0 522.7H71.4M57.2 509.50000000000006V536.9000000000001"/>
<path class="t" d="M85.7 513.0V531.4000000000001M85.7 537.5999999999999V556.0M79.3 522.2H92.10000000000001M79.3 546.8H92.10000000000001"/>
<path class="t" d="M57.2 616.5L57.2 655"/>
<path class="t" d="M85.3 616.5L85.3 636"/>
<path class="t" d="M57.2 619.4L85.3 619.4"/>
<path class="a" d="M57.2 619.4l6.0 -1.4v2.8z"/>
<path class="a" d="M85.3 619.4l-6.0 -1.4v2.8z"/>
<text x="71.3" y="617.8" font-size="11.5" text-anchor="middle">23</text>
<path class="t" d="M96 633.4L130 633.4"/>
<path class="t" d="M96 637.3L113.5 637.3"/>
<path class="t" d="M110.8 612.7L110.8 645.7"/>
<path class="a" d="M110.8 633.4l-1.4 -6.0h2.8z"/>
<path class="a" d="M110.8 637.3l-1.4 6.0h2.8z"/>
<text transform="translate(106,617.8) rotate(-90)" y="4.1" font-size="11.5" text-anchor="middle">2</text>
<path class="t" d="M75 656.8L130 656.8"/>
<path class="t" d="M127.6 633.4L127.6 656.8"/>
<path class="a" d="M127.6 633.4l-1.4 6.0h2.8z"/>
<path class="a" d="M127.6 656.8l-1.4 -6.0h2.8z"/>
<text transform="translate(121.3,645) rotate(-90)" y="4.1" font-size="11.5" text-anchor="middle">12</text>
<path class="t" d="M16 656.8L45 656.8"/>
<path class="t" d="M16 675.4L52.6 675.4"/>
<path class="t" d="M18.7 621L18.7 684.8"/>
<path class="a" d="M18.7 656.8l-1.4 -6.0h2.8z"/>
<path class="a" d="M18.7 675.4l-1.4 6.0h2.8z"/>
<text transform="translate(12.7,633) rotate(-90)" y="4.1" font-size="11.5" text-anchor="middle">14.3</text>
<path class="t" d="M33 671.2L52.6 671.2"/>
<path class="t" d="M35.3 621L35.3 680.5"/>
<path class="a" d="M35.3 656.8l-1.4 -6.0h2.8z"/>
<path class="a" d="M35.3 671.2l-1.4 6.0h2.8z"/>
<text transform="translate(28.8,633) rotate(-90)" y="4.1" font-size="11.5" text-anchor="middle">11.6</text>
<path class="t" d="M52.6 675.4L52.6 694"/>
<path class="t" d="M61.9 675.4L61.9 694"/>
<path class="t" d="M41.6 691.6L91.6 691.6"/>
<path class="a" d="M52.6 691.6l-6.0 -1.4v2.8z"/>
<path class="a" d="M61.9 691.6l6.0 -1.4v2.8z"/>
<text x="80.6" y="689.5" font-size="11.5" text-anchor="middle">Ø6</text>
<path class="o" d="M52.9 656.8V670.8l0.9 0.9v1l-0.9 0.7v1.2l0.8 0.8H60.800000000000004l0.8 -0.8v-1.2l-0.9 -0.7v-1l0.9 -0.9V656.8Z"/>
<rect x="53.8" y="671.7" width="6.9" height="1.9" fill="#666"/>
<rect class="o" x="47.5" y="649.0" width="19.5" height="3.9" rx="1.2"/>
<path class="o" d="M92.25 633.4H71.5Q68.7 633.4 68.7 636.1999999999999V652.0Q68.7 652.9 67.8 652.9H45.6q-0.6 0 -0.6 0.6V656.1999999999999q0 0.6 0.6 0.6H69.8Q72.6 656.8 72.6 654.0V638.2Q72.6 637.3 73.5 637.3H92.25a1.95 1.95 0 0 0 0 -3.9Z"/>
<path class="c" d="M57.25 646V678"/>
<path class="t" d="M82.5 633.4V637.3M88 633.4V637.3"/>
<text x="166.5" y="436.7" font-size="12" textLength="20.5" lengthAdjust="spacingAndGlyphs">No.:</text>
<text x="187.8" y="436.7" font-size="12" textLength="13.8" lengthAdjust="spacingAndGlyphs" style="fill:#1e88d6;stroke:#1e88d6">6C</text>
<path class="t" d="M206.5 476L206.5 509.5"/>
<path class="t" d="M255.2 476L255.2 522"/>
<path class="t" d="M206.5 479.1L255.2 479.1"/>
<path class="a" d="M206.5 479.1l6.0 -1.4v2.8z"/>
<path class="a" d="M255.2 479.1l-6.0 -1.4v2.8z"/>
<text x="231.1" y="477.5" font-size="11.5" text-anchor="middle">40</text>
<path class="t" d="M211.4 493L211.4 516"/>
<path class="t" d="M219.1 493L219.1 516"/>
<path class="t" d="M200.9 495.8L248.4 495.8"/>
<path class="a" d="M211.4 495.8l-6.0 -1.4v2.8z"/>
<path class="a" d="M219.1 495.8l6.0 -1.4v2.8z"/>
<text x="239.6" y="493.9" font-size="11.5" text-anchor="middle">6.5</text>
<text x="269.2" y="493.9" font-size="11.5" text-anchor="middle" textLength="19.5" lengthAdjust="spacingAndGlyphs">R10</text>
<path class="t" d="M257.7 495.8L279.8 495.8"/>
<path class="t" d="M257.7 495.8L250.3 509"/>
<path class="a" transform="translate(250,509.5) rotate(119)" d="M0 0l-6.0 -1.4v2.8z"/>
<path class="t" d="M189.5 518.5L211 518.5"/>
<path class="t" d="M189.5 524.9L211 524.9"/>
<path class="t" d="M196.7 502.4L196.7 536.3"/>
<path class="a" d="M196.7 518.5l-1.4 -6.0h2.8z"/>
<path class="a" d="M196.7 524.9l-1.4 6.0h2.8z"/>
<text transform="translate(191.9,504.9) rotate(-90)" y="4.1" font-size="11.5" text-anchor="middle">5</text>
<path class="t" d="M185 521.9L211 521.9"/>
<path class="t" d="M185 546.2L211 546.2"/>
<path class="t" d="M187.3 521.9L187.3 546.2"/>
<path class="a" d="M187.3 521.9l-1.4 6.0h2.8z"/>
<path class="a" d="M187.3 546.2l-1.4 -6.0h2.8z"/>
<text transform="translate(181.4,533.8) rotate(-90)" y="4.1" font-size="11.5" text-anchor="middle">20</text>
<path class="t" d="M250 509.5L272 509.5"/>
<path class="t" d="M232 558.4L272 558.4"/>
<path class="t" d="M269.6 509.5L269.6 558.4"/>
<path class="a" d="M269.6 509.5l-1.4 6.0h2.8z"/>
<path class="a" d="M269.6 558.4l-1.4 -6.0h2.8z"/>
<text transform="translate(264,531.6) rotate(-90)" y="4.1" font-size="11.5" text-anchor="middle">40</text>
<path class="t" d="M206.5 558.4L206.5 595"/>
<path class="t" d="M215.3 556L215.3 577.5"/>
<path class="t" d="M187 575L226.3 575"/>
<path class="a" d="M206.5 575l-6.0 -1.4v2.8z"/>
<path class="a" d="M215.3 575l6.0 -1.4v2.8z"/>
<text x="191.2" y="573.6" font-size="11.5" text-anchor="middle">7</text>
<path class="t" d="M231.4 559.5L231.4 595"/>
<path class="t" d="M206.5 591.8L231.4 591.8"/>
<path class="a" d="M206.5 591.8l6.0 -1.4v2.8z"/>
<path class="a" d="M231.4 591.8l-6.0 -1.4v2.8z"/>
<text x="217.9" y="589" font-size="11.5" text-anchor="middle">19</text>
<g transform="translate(300.7,0) scale(-1,1)">
<path class="o" d="M57.2 510.4A12.2 12.2 0 0 0 47.48 530.08L68.8 558.0Q69.6 559.2 71.1 559.2H90.7a3.5 3.5 0 0 0 3.5 -3.5V513.9a3.5 3.5 0 0 0 -3.5 -3.5Z"/>
<path class="on" d="M73.5 510.4L73.5 559.2"/>
<path class="d" d="M69.6 511.4L69.6 558.2"/>
<circle class="d" cx="57.2" cy="522.7" r="9.3"/>
<circle class="ow" cx="57.2" cy="522.7" r="5.1"/>
<rect class="ow" x="81.8" y="515.5" width="7.8" height="13.4" rx="3.9"/>
<rect class="ow" x="81.8" y="540.1" width="7.8" height="13.4" rx="3.9"/>
<path class="c" d="M44.0 522.7H71.4M57.2 509.50000000000006V536.9000000000001"/>
<path class="t" d="M85.7 513.0V531.4000000000001M85.7 537.5999999999999V556.0M79.3 522.2H92.10000000000001M79.3 546.8H92.10000000000001"/>
</g>
<path class="t" d="M215 615.7L215 636"/>
<path class="t" d="M243 615.7L243 655"/>
<path class="t" d="M215 618.6L243 618.6"/>
<path class="a" d="M215 618.6l6.0 -1.4v2.8z"/>
<path class="a" d="M243 618.6l-6.0 -1.4v2.8z"/>
<text x="228.9" y="616.1" font-size="11.5" text-anchor="middle">23</text>
<path class="t" d="M189.5 632.7L205 632.7"/>
<path class="t" d="M189.5 636.8L205 636.8"/>
<path class="t" d="M192.4 612.7L192.4 646.6"/>
<path class="a" d="M192.4 632.7l-1.4 -6.0h2.8z"/>
<path class="a" d="M192.4 636.8l-1.4 6.0h2.8z"/>
<text transform="translate(188.2,616.9) rotate(-90)" y="4.1" font-size="11.5" text-anchor="middle">2</text>
<path class="t" d="M173.5 632.7L205 632.7"/>
<path class="t" d="M173.5 656.3L228 656.3"/>
<path class="t" d="M176.6 632.7L176.6 656.3"/>
<path class="a" d="M176.6 632.7l-1.4 6.0h2.8z"/>
<path class="a" d="M176.6 656.3l-1.4 -6.0h2.8z"/>
<text transform="translate(171.2,644.2) rotate(-90)" y="4.1" font-size="11.5" text-anchor="middle">12</text>
<path class="t" d="M258.5 656.3L292 656.3"/>
<path class="t" d="M249.5 670.4L275 670.4"/>
<path class="t" d="M272.2 621L272.2 680"/>
<path class="a" d="M272.2 656.3l-1.4 -6.0h2.8z"/>
<path class="a" d="M272.2 670.4l-1.4 6.0h2.8z"/>
<text transform="translate(267.1,634.7) rotate(-90)" y="4.1" font-size="11.5" text-anchor="middle">11.6</text>
<path class="t" d="M249.5 674.6L292 674.6"/>
<path class="t" d="M288.3 621L288.3 684.5"/>
<path class="a" d="M288.3 656.3l-1.4 -6.0h2.8z"/>
<path class="a" d="M288.3 674.6l-1.4 6.0h2.8z"/>
<text transform="translate(283.2,633.9) rotate(-90)" y="4.1" font-size="11.5" text-anchor="middle">14.3</text>
<path class="t" d="M238.6 674.6L238.6 694"/>
<path class="t" d="M248.1 674.6L248.1 694"/>
<path class="t" d="M209.4 691.6L258.6 691.6"/>
<path class="a" d="M238.6 691.6l-6.0 -1.4v2.8z"/>
<path class="a" d="M248.1 691.6l6.0 -1.4v2.8z"/>
<text x="218.7" y="689.4" font-size="11.5" text-anchor="middle">Ø6</text>
<g transform="translate(301.2,0) scale(-1,1)">
<path class="o" d="M52.9 656.3V670.3l0.9 0.9v1l-0.9 0.7v1.2l0.8 0.8H60.800000000000004l0.8 -0.8v-1.2l-0.9 -0.7v-1l0.9 -0.9V656.3Z"/>
<rect x="53.8" y="671.2" width="6.9" height="1.9" fill="#666"/>
<rect class="o" x="47.5" y="648.5" width="19.5" height="3.9" rx="1.2"/>
<path class="o" d="M92.25 632.8H71.5Q68.7 632.8 68.7 635.5999999999999V651.5Q68.7 652.4 67.8 652.4H45.6q-0.6 0 -0.6 0.6V655.6999999999999q0 0.6 0.6 0.6H69.8Q72.6 656.3 72.6 653.5V637.6Q72.6 636.7 73.5 636.7H92.25a1.95 1.95 0 0 0 0 -3.9Z"/>
</g>
<path class="c" d="M243.4 645V678"/>
<path class="t" d="M213 632.8V636.7M218.5 632.8V636.7"/>
<text x="330.5" y="455.8" font-size="12" textLength="62.5" lengthAdjust="spacingAndGlyphs">Accessories</text>
<circle cx="335.5" cy="472.59999999999997" r="5" fill="none" stroke="#333" stroke-width="0.8"/>
<text x="335.5" y="475.5" font-size="8.5" text-anchor="middle">1</text>
<text x="342.0" y="476.9" font-size="12" textLength="91.5" lengthAdjust="spacingAndGlyphs">E Type Retaining Ring</text>
<g transform="translate(360.6,511.4)"><path class="ol" d="M-12.1 10.9A16.3 16.3 0 1 1 12.1 10.9L6.95 5.05A8.6 8.6 0 0 0 8.5 0H11.6A11.6 11.6 0 0 0 3.5 -11.05L2.3 -8.3H-2.3L-3.5 -11.05A11.6 11.6 0 0 0 -11.6 0H-8.5A8.6 8.6 0 0 0 -6.95 5.05Z"/><path class="c" d="M-19.6 0H19.9M0 -20V19.8"/></g>
<circle cx="335.5" cy="555.8000000000001" r="5" fill="none" stroke="#333" stroke-width="0.8"/>
<text x="335.5" y="558.7" font-size="8.5" text-anchor="middle">2</text>
<text x="342.0" y="560.1" font-size="12" textLength="39.8" lengthAdjust="spacingAndGlyphs">Washer</text>
<text x="360.6" y="580.4" font-size="11.5" text-anchor="middle" textLength="30.5" lengthAdjust="spacingAndGlyphs">Ø12.5</text>
<path class="t" d="M348.3 580.7L348.3 627.1"/>
<path class="t" d="M372.90000000000003 580.7L372.90000000000003 627.1"/>
<path class="t" d="M348.3 584.7L372.90000000000003 584.7"/>
<path class="a" d="M348.3 584.7l6.0 -1.4v2.8z"/>
<path class="a" d="M372.90000000000003 584.7l-6.0 -1.4v2.8z"/>
<text x="360.6" y="596.3" font-size="11.5" text-anchor="middle" textLength="24.6" lengthAdjust="spacingAndGlyphs">Ø6.4</text>
<path class="t" d="M353.20000000000005 597.3L353.20000000000005 627.1"/>
<path class="t" d="M368.0 597.3L368.0 627.1"/>
<path class="t" d="M342.4 601.3L378.9 601.3"/>
<path class="a" d="M353.20000000000005 601.3l-6.0 -1.4v2.8z"/>
<path class="a" d="M368.0 601.3l6.0 -1.4v2.8z"/>
<circle class="ol" cx="360.6" cy="627.1" r="12.3"/>
<circle class="ow" cx="360.6" cy="627.1" r="7.4"/>
<path class="c" d="M346.3 627.1H374.90000000000003M360.6 611.8000000000001V642.4"/>
<path class="t" d="M399.3 597.3L399.3 615.2"/>
<path class="t" d="M401.8 597.3L401.8 615.2"/>
<path class="t" d="M388.2 601.3L425.6 601.3"/>
<path class="a" d="M399.3 601.3l-6.0 -1.4v2.8z"/>
<path class="a" d="M401.8 601.3l6.0 -1.4v2.8z"/>
<text x="409.9" y="599.7" font-size="11.5" textLength="15.3" lengthAdjust="spacingAndGlyphs">1.6</text>
<rect x="399.3" y="615.2" width="2.5" height="24.1" rx="0.8" fill="#d8d8d8" stroke="#333" stroke-width="0.9"/>
<text x="460.7" y="436.5" font-size="12" textLength="35" lengthAdjust="spacingAndGlyphs" style="fill:#1e88d6;stroke:#1e88d6">GSJEA</text>
<text x="460.7" y="452.4" font-size="12" textLength="35" lengthAdjust="spacingAndGlyphs" style="fill:#1e88d6;stroke:#1e88d6">GSJEB</text>
<text x="460.7" y="468.1" font-size="12" textLength="20.5" lengthAdjust="spacingAndGlyphs">No.:</text>
<text x="482" y="468.1" font-size="12" textLength="13.8" lengthAdjust="spacingAndGlyphs" style="fill:#1e88d6;stroke:#1e88d6">8B</text>
<path class="t" d="M497.2 484.5L497.2 530"/>
<path class="t" d="M546.7 484.5L546.7 518"/>
<path class="t" d="M497.2 487.6L546.7 487.6"/>
<path class="a" d="M497.2 487.6l6.0 -1.4v2.8z"/>
<path class="a" d="M546.7 487.6l-6.0 -1.4v2.8z"/>
<text x="522.1" y="485.4" font-size="11.5" text-anchor="middle">40</text>
<text x="481.2" y="501.9" font-size="11.5" text-anchor="middle" textLength="19.8" lengthAdjust="spacingAndGlyphs">R10</text>
<path class="t" d="M470.4 504.1L492.1 504.1"/>
<path class="t" d="M492.1 504.1L501.2 517.4"/>
<path class="a" transform="translate(501.6,518) rotate(56)" d="M0 0l-6.0 -1.4v2.8z"/>
<path class="t" d="M534 501L534 525"/>
<path class="t" d="M542.5 501L542.5 525"/>
<path class="t" d="M523 503.7L572.2 503.7"/>
<path class="a" d="M534 503.7l-6.0 -1.4v2.8z"/>
<path class="a" d="M542.5 503.7l6.0 -1.4v2.8z"/>
<text x="561.1" y="501.9" font-size="11.5" text-anchor="middle">6.5</text>
<path class="t" d="M481 518L510 518"/>
<path class="t" d="M481 566.8L522 566.8"/>
<path class="t" d="M483.9 518L483.9 566.8"/>
<path class="a" d="M483.9 518l-1.4 6.0h2.8z"/>
<path class="a" d="M483.9 566.8l-1.4 -6.0h2.8z"/>
<text transform="translate(478,542.2) rotate(-90)" y="4.1" font-size="11.5" text-anchor="middle">40</text>
<path class="t" d="M542 530.4L582.5 530.4"/>
<path class="t" d="M542 555L582.5 555"/>
<path class="t" d="M579.8 530.4L579.8 555"/>
<path class="a" d="M579.8 530.4l-1.4 6.0h2.8z"/>
<path class="a" d="M579.8 555l-1.4 -6.0h2.8z"/>
<text transform="translate(574.7,541.9) rotate(-90)" y="4.1" font-size="11.5" text-anchor="middle">20</text>
<path class="t" d="M542 551.6L565.5 551.6"/>
<path class="t" d="M542 557.9L565.5 557.9"/>
<path class="t" d="M562.8 532L562.8 573.5"/>
<path class="a" d="M562.8 551.6l-1.4 -6.0h2.8z"/>
<path class="a" d="M562.8 557.9l-1.4 6.0h2.8z"/>
<text transform="translate(557.7,536.8) rotate(-90)" y="4.1" font-size="11.5" text-anchor="middle">5</text>
<path class="t" d="M538.2 564L538.2 586"/>
<path class="t" d="M546.7 566.8L546.7 603"/>
<path class="t" d="M527.7 583.5L567.1 583.5"/>
<path class="a" d="M538.2 583.5l-6.0 -1.4v2.8z"/>
<path class="a" d="M546.7 583.5l6.0 -1.4v2.8z"/>
<text x="561.1" y="581.3" font-size="11.5" text-anchor="middle">7</text>
<path class="t" d="M521.6 567.5L521.6 603"/>
<path class="t" d="M521.6 600.3L546.7 600.3"/>
<path class="a" d="M521.6 600.3l6.0 -1.4v2.8z"/>
<path class="a" d="M546.7 600.3l-6.0 -1.4v2.8z"/>
<text x="534.3" y="598" font-size="11.5" text-anchor="middle">20.2</text>
<path class="o" d="M509.7 518A12.4 12.4 0 0 0 499.83 538.21L520.8000000000001 565.5999999999999Q521.6 566.8 523.1 566.8H543.2a3.5 3.5 0 0 0 3.5 -3.5V521.5a3.5 3.5 0 0 0 -3.5 -3.5Z"/>
<path class="on" d="M525.5 518L525.5 566.8"/>
<path class="d" d="M521.6 519L521.6 565.8"/>
<circle class="d" cx="509.7" cy="530.7" r="9.3"/>
<circle class="ow" cx="509.7" cy="530.7" r="5.1"/>
<rect class="ow" x="534.3" y="523.5" width="7.8" height="13.4" rx="3.9"/>
<rect class="ow" x="534.3" y="547.8" width="7.8" height="13.4" rx="3.9"/>
<path class="c" d="M496.3 530.7H524.1M509.7 517.3000000000001V545.1"/>
<path class="t" d="M538.2 521.0V539.4000000000001M538.2 545.3V563.7M531.8000000000001 530.2H544.6M531.8000000000001 554.5H544.6"/>
<path class="t" d="M509.7 624L509.7 663"/>
<path class="t" d="M537.7 624L537.7 644"/>
<path class="t" d="M509.7 627.1L537.7 627.1"/>
<path class="a" d="M509.7 627.1l6.0 -1.4v2.8z"/>
<path class="a" d="M537.7 627.1l-6.0 -1.4v2.8z"/>
<text x="523.8" y="625" font-size="11.5" text-anchor="middle">23</text>
<path class="t" d="M548.5 640.7L582.5 640.7"/>
<path class="t" d="M548.5 645.4L565.5 645.4"/>
<path class="t" d="M562.8 612.7L562.8 653.4"/>
<path class="a" d="M562.8 640.7l-1.4 -6.0h2.8z"/>
<path class="a" d="M562.8 645.4l-1.4 6.0h2.8z"/>
<text transform="translate(557.7,622) rotate(-90)" y="4.1" font-size="11.5" text-anchor="middle">3.2</text>
<path class="t" d="M527 664.7L582.5 664.7"/>
<path class="t" d="M579.8 640.7L579.8 664.7"/>
<path class="a" d="M579.8 640.7l-1.4 6.0h2.8z"/>
<path class="a" d="M579.8 664.7l-1.4 -6.0h2.8z"/>
<text transform="translate(573.9,652.7) rotate(-90)" y="4.1" font-size="11.5" text-anchor="middle">19.3</text>
<path class="t" d="M470.5 664.7L497.5 664.7"/>
<path class="t" d="M470.5 682.7L505 682.7"/>
<path class="t" d="M473.2 630L473.2 692.5"/>
<path class="a" d="M473.2 664.7l-1.4 -6.0h2.8z"/>
<path class="a" d="M473.2 682.7l-1.4 6.0h2.8z"/>
<text transform="translate(467.8,642.3) rotate(-90)" y="4.1" font-size="11.5" text-anchor="middle">14.8</text>
<path class="t" d="M485.5 678.8L505 678.8"/>
<path class="t" d="M488.2 630L488.2 688"/>
<path class="a" d="M488.2 664.7l-1.4 -6.0h2.8z"/>
<path class="a" d="M488.2 678.8l-1.4 6.0h2.8z"/>
<text transform="translate(482.6,641.5) rotate(-90)" y="4.1" font-size="11.5" text-anchor="middle">11.8</text>
<path class="t" d="M505.1 682.7L505.1 702"/>
<path class="t" d="M514.5 682.7L514.5 702"/>
<path class="t" d="M494.1 699.2L543.3 699.2"/>
<path class="a" d="M505.1 699.2l-6.0 -1.4v2.8z"/>
<path class="a" d="M514.5 699.2l6.0 -1.4v2.8z"/>
<text x="533.1" y="697" font-size="11.5" text-anchor="middle">Ø8</text>
<path class="o" d="M505.40000000000003 664.7V678.1l0.9 0.9v1l-0.9 0.7v1.2l0.8 0.8H513.4000000000001l0.8 -0.8v-1.2l-0.9 -0.7v-1l0.9 -0.9V664.7Z"/>
<rect x="506.3" y="679.0" width="7.0" height="1.9" fill="#666"/>
<rect class="o" x="499.7" y="656.3" width="19.5" height="3.7" rx="1.2"/>
<path class="o" d="M544.65 640.7H523.8Q521 640.7 521 643.5V659.1Q521 660.0 520.1 660.0H498.1q-0.6 0 -0.6 0.6V664.1q0 0.6 0.6 0.6H522.9Q525.7 664.7 525.7 661.9000000000001V646.3Q525.7 645.4 526.6 645.4H544.65a2.35 2.35 0 0 0 0 -4.7Z"/>
<path class="c" d="M509.8 654V686"/>
<path class="t" d="M535 640.7V645.4M540.5 640.7V645.4"/>
<text x="625.7" y="436.7" font-size="12" textLength="20.5" lengthAdjust="spacingAndGlyphs">No.:</text>
<text x="647" y="436.7" font-size="12" textLength="14" lengthAdjust="spacingAndGlyphs" style="fill:#1e88d6;stroke:#1e88d6">8C</text>
<path class="t" d="M671.7 484.5L671.7 518"/>
<path class="t" d="M721.2 484.5L721.2 530"/>
<path class="t" d="M671.7 487.6L721.2 487.6"/>
<path class="a" d="M671.7 487.6l6.0 -1.4v2.8z"/>
<path class="a" d="M721.2 487.6l-6.0 -1.4v2.8z"/>
<text x="697.5" y="485.4" font-size="11.5" text-anchor="middle">40</text>
<path class="t" d="M676.3 501L676.3 525"/>
<path class="t" d="M684.4 501L684.4 525"/>
<path class="t" d="M646.6 503.7L694.1 503.7"/>
<path class="a" d="M676.3 503.7l-6.0 -1.4v2.8z"/>
<path class="a" d="M684.4 503.7l6.0 -1.4v2.8z"/>
<text x="657.1" y="501.9" font-size="11.5" text-anchor="middle">6.5</text>
<text x="737.3" y="502.4" font-size="11.5" text-anchor="middle" textLength="19.8" lengthAdjust="spacingAndGlyphs">R10</text>
<path class="t" d="M726.3 504.1L747.5 504.1"/>
<path class="t" d="M726.3 504.1L716.5 517.2"/>
<path class="a" transform="translate(716.1,517.8) rotate(127)" d="M0 0l-6.0 -1.4v2.8z"/>
<path class="t" d="M635.5 530.4L680 530.4"/>
<path class="t" d="M635.5 555L680 555"/>
<path class="t" d="M638.4 530.4L638.4 555"/>
<path class="a" d="M638.4 530.4l-1.4 6.0h2.8z"/>
<path class="a" d="M638.4 555l-1.4 -6.0h2.8z"/>
<text transform="translate(632.1,542.2) rotate(-90)" y="4.1" font-size="11.5" text-anchor="middle">20</text>
<path class="t" d="M652.5 551.6L676 551.6"/>
<path class="t" d="M652.5 557.9L676 557.9"/>
<path class="t" d="M655.4 532L655.4 567.7"/>
<path class="a" d="M655.4 551.6l-1.4 -6.0h2.8z"/>
<path class="a" d="M655.4 557.9l-1.4 6.0h2.8z"/>
<text transform="translate(650.3,536.8) rotate(-90)" y="4.1" font-size="11.5" text-anchor="middle">5</text>
<path class="t" d="M716 518L737.5 518"/>
<path class="t" d="M698 566.8L737.5 566.8"/>
<path class="t" d="M734.8 518L734.8 566.8"/>
<path class="a" d="M734.8 518l-1.4 6.0h2.8z"/>
<path class="a" d="M734.8 566.8l-1.4 -6.0h2.8z"/>
<text transform="translate(729.2,542.2) rotate(-90)" y="4.1" font-size="11.5" text-anchor="middle">40</text>
<path class="t" d="M671.7 566.8L671.7 603"/>
<path class="t" d="M680.5 564L680.5 586"/>
<path class="t" d="M652.2 583.5L691.5 583.5"/>
<path class="a" d="M671.7 583.5l-6.0 -1.4v2.8z"/>
<path class="a" d="M680.5 583.5l6.0 -1.4v2.8z"/>
<text x="657.1" y="581.3" font-size="11.5" text-anchor="middle">7</text>
<path class="t" d="M696.6 567.5L696.6 603"/>
<path class="t" d="M671.7 600.3L696.6 600.3"/>
<path class="a" d="M671.7 600.3l6.0 -1.4v2.8z"/>
<path class="a" d="M696.6 600.3l-6.0 -1.4v2.8z"/>
<text x="684.4" y="598" font-size="11.5" text-anchor="middle">20.2</text>
<g transform="translate(1218.4,0) scale(-1,1)">
<path class="o" d="M509.7 518A12.4 12.4 0 0 0 499.83 538.21L520.8000000000001 565.5999999999999Q521.6 566.8 523.1 566.8H543.2a3.5 3.5 0 0 0 3.5 -3.5V521.5a3.5 3.5 0 0 0 -3.5 -3.5Z"/>
<path class="on" d="M525.5 518L525.5 566.8"/>
<path class="d" d="M521.6 519L521.6 565.8"/>
<circle class="d" cx="509.7" cy="530.7" r="9.3"/>
<circle class="ow" cx="509.7" cy="530.7" r="5.1"/>
<rect class="ow" x="534.3" y="523.5" width="7.8" height="13.4" rx="3.9"/>
<rect class="ow" x="534.3" y="547.8" width="7.8" height="13.4" rx="3.9"/>
<path class="c" d="M496.3 530.7H524.1M509.7 517.3000000000001V545.1"/>
<path class="t" d="M538.2 521.0V539.4000000000001M538.2 545.3V563.7M531.8000000000001 530.2H544.6M531.8000000000001 554.5H544.6"/>
</g>
<path class="t" d="M680.5 624L680.5 644"/>
<path class="t" d="M708.5 624L708.5 663"/>
<path class="t" d="M680.5 627.1L708.5 627.1"/>
<path class="a" d="M680.5 627.1l6.0 -1.4v2.8z"/>
<path class="a" d="M708.5 627.1l-6.0 -1.4v2.8z"/>
<text x="694.6" y="625" font-size="11.5" text-anchor="middle">23</text>
<path class="t" d="M652.5 640.7L670 640.7"/>
<path class="t" d="M652.5 645.4L670 645.4"/>
<path class="t" d="M655.4 612.7L655.4 655"/>
<path class="a" d="M655.4 640.7l-1.4 -6.0h2.8z"/>
<path class="a" d="M655.4 645.4l-1.4 6.0h2.8z"/>
<text transform="translate(650,620.3) rotate(-90)" y="4.1" font-size="11.5" text-anchor="middle">3.2</text>
<path class="t" d="M635.5 640.7L670 640.7"/>
<path class="t" d="M635.5 664.7L692 664.7"/>
<path class="t" d="M638.4 640.7L638.4 664.7"/>
<path class="a" d="M638.4 640.7l-1.4 6.0h2.8z"/>
<path class="a" d="M638.4 664.7l-1.4 -6.0h2.8z"/>
<text transform="translate(632.1,652.7) rotate(-90)" y="4.1" font-size="11.5" text-anchor="middle">19.3</text>
<path class="t" d="M723.5 664.7L748 664.7"/>
<path class="t" d="M715 678.8L733 678.8"/>
<path class="t" d="M730.2 630L730.2 688"/>
<path class="a" d="M730.2 664.7l-1.4 -6.0h2.8z"/>
<path class="a" d="M730.2 678.8l-1.4 6.0h2.8z"/>
<text transform="translate(724.6,641.5) rotate(-90)" y="4.1" font-size="11.5" text-anchor="middle">11.8</text>
<path class="t" d="M715 682.7L748 682.7"/>
<path class="t" d="M745 630L745 692.5"/>
<path class="a" d="M745 664.7l-1.4 -6.0h2.8z"/>
<path class="a" d="M745 682.7l-1.4 6.0h2.8z"/>
<text transform="translate(739.5,641.5) rotate(-90)" y="4.1" font-size="11.5" text-anchor="middle">14.8</text>
<path class="t" d="M703.9 682.7L703.9 702"/>
<path class="t" d="M713.6 682.7L713.6 702"/>
<path class="t" d="M674.9 699.2L724.6 699.2"/>
<path class="a" d="M703.9 699.2l-6.0 -1.4v2.8z"/>
<path class="a" d="M713.6 699.2l6.0 -1.4v2.8z"/>
<text x="684.7" y="697" font-size="11.5" text-anchor="middle">Ø8</text>
<g transform="translate(1218.7,0) scale(-1,1)">
<path class="o" d="M505.40000000000003 664.7V678.1l0.9 0.9v1l-0.9 0.7v1.2l0.8 0.8H513.4000000000001l0.8 -0.8v-1.2l-0.9 -0.7v-1l0.9 -0.9V664.7Z"/>
<rect x="506.3" y="679.0" width="7.0" height="1.9" fill="#666"/>
<rect class="o" x="499.7" y="656.3" width="19.5" height="3.7" rx="1.2"/>
<path class="o" d="M544.65 640.7H523.8Q521 640.7 521 643.5V659.1Q521 660.0 520.1 660.0H498.1q-0.6 0 -0.6 0.6V664.1q0 0.6 0.6 0.6H522.9Q525.7 664.7 525.7 661.9000000000001V646.3Q525.7 645.4 526.6 645.4H544.65a2.35 2.35 0 0 0 0 -4.7Z"/>
</g>
<path class="c" d="M708.9 654V686"/>
<path class="t" d="M678.5 640.7V645.4M684 640.7V645.4"/>
<text x="791" y="442.1" font-size="12" textLength="62" lengthAdjust="spacingAndGlyphs">Accessories</text>
<circle cx="796" cy="459.3" r="5" fill="none" stroke="#333" stroke-width="0.8"/>
<text x="796" y="462.2" font-size="8.5" text-anchor="middle">1</text>
<text x="802.5" y="463.6" font-size="12" textLength="116.9" lengthAdjust="spacingAndGlyphs">E Type Retaining Ring</text>
<g transform="translate(832.4,488.4)"><path class="ol" d="M-12.1 10.9A16.3 16.3 0 1 1 12.1 10.9L6.95 5.05A8.6 8.6 0 0 0 8.5 0H11.6A11.6 11.6 0 0 0 3.5 -11.05L2.3 -8.3H-2.3L-3.5 -11.05A11.6 11.6 0 0 0 -11.6 0H-8.5A8.6 8.6 0 0 0 -6.95 5.05Z"/><path class="c" d="M-19.6 0H19.9M0 -20V19.8"/></g>
<circle cx="796" cy="526.4000000000001" r="5" fill="none" stroke="#333" stroke-width="0.8"/>
<text x="796" y="529.3" font-size="8.5" text-anchor="middle">2</text>
<text x="802.5" y="530.7" font-size="12" textLength="39.5" lengthAdjust="spacingAndGlyphs">Washer</text>
<text x="832.4" y="547.5" font-size="11.5" text-anchor="middle" textLength="21.4" lengthAdjust="spacingAndGlyphs">Ø17</text>
<path class="t" d="M819.9 546.6L819.9 593"/>
<path class="t" d="M844.9 546.6L844.9 593"/>
<path class="t" d="M819.9 550.6L844.9 550.6"/>
<path class="a" d="M819.9 550.6l6.0 -1.4v2.8z"/>
<path class="a" d="M844.9 550.6l-6.0 -1.4v2.8z"/>
<text x="832.4" y="562.1" font-size="11.5" text-anchor="middle" textLength="25" lengthAdjust="spacingAndGlyphs">Ø8.4</text>
<path class="t" d="M825.4 563.4L825.4 593"/>
<path class="t" d="M839.4 563.4L839.4 593"/>
<path class="t" d="M814 567.4L850 567.4"/>
<path class="a" d="M825.4 567.4l-6.0 -1.4v2.8z"/>
<path class="a" d="M839.4 567.4l6.0 -1.4v2.8z"/>
<circle class="ol" cx="832.4" cy="593" r="12.5"/>
<circle class="ow" cx="832.4" cy="593" r="7"/>
<path class="c" d="M817.9 593H846.9M832.4 577.5V608.5"/>
<path class="t" d="M870.6 563.4L870.6 581.4"/>
<path class="t" d="M873.6 563.4L873.6 581.4"/>
<path class="t" d="M860 567.4L902.4 567.4"/>
<path class="a" d="M870.6 567.4l-6.0 -1.4v2.8z"/>
<path class="a" d="M873.6 567.4l6.0 -1.4v2.8z"/>
<text x="886.4" y="565.5" font-size="11.5" textLength="15.6" lengthAdjust="spacingAndGlyphs">1.6</text>
<rect x="870.6" y="581.4" width="3.0" height="24.0" rx="0.8" fill="#d8d8d8" stroke="#333" stroke-width="0.9"/>
<circle cx="796" cy="628.2" r="5" fill="none" stroke="#333" stroke-width="0.8"/>
<text x="796" y="631.1" font-size="8.5" text-anchor="middle">3</text>
<text x="802.5" y="632.5" font-size="12" textLength="57.1" lengthAdjust="spacingAndGlyphs">POA Collar</text>
<path class="t" d="M819.4 653.6L819.4 671.4"/>
<path class="t" d="M823.6 653.6L823.6 671.4"/>
<path class="t" d="M842 653.6L842 675"/>
<path class="t" d="M809 657.6L842 657.6"/>
<path class="a" d="M819.4 657.6l-6.0 -1.4v2.8z"/>
<path class="a" d="M823.6 657.6l6.0 -1.4v2.8z"/>
<path class="a" d="M842 657.6l-6.0 -1.4v2.8z"/>
<text x="821" y="655" font-size="11.5" text-anchor="middle">1</text>
<text x="833.4" y="655" font-size="11.5" text-anchor="middle">10</text>
<path class="t" d="M801.6 671.4L819.4 671.4"/>
<path class="t" d="M801.6 701L819.4 701"/>
<path class="t" d="M805.6 671.4L805.6 701"/>
<path class="a" d="M805.6 671.4l-1.4 6.0h2.8z"/>
<path class="a" d="M805.6 701l-1.4 -6.0h2.8z"/>
<text transform="translate(800,686.2) rotate(-90)" y="4.1" font-size="11.5" text-anchor="middle">Ø15</text>
<path class="t" d="M842 675L859.6 675"/>
<path class="t" d="M842 697.4L859.6 697.4"/>
<path class="t" d="M855.6 675L855.6 697.4"/>
<path class="a" d="M855.6 675l-1.4 6.0h2.8z"/>
<path class="a" d="M855.6 697.4l-1.4 -6.0h2.8z"/>
<text transform="translate(848.6,686.2) rotate(-90)" y="4.1" font-size="11.5" text-anchor="middle">Ø10</text>
<rect class="o" x="823.6" y="675" width="18.4" height="22.4"/>
<rect class="o" x="819.4" y="671.4" width="4.2" height="29.6"/>
<path class="c" d="M816.4 686.2H845"/>
<path class="t" d="M901.4 652.4L901.4 670"/>
<path class="t" d="M905.6 652.4L905.6 670"/>
<path class="t" d="M925.6 652.4L925.6 674"/>
<path class="t" d="M891 656.4L925.6 656.4"/>
<path class="a" d="M901.4 656.4l-6.0 -1.4v2.8z"/>
<path class="a" d="M905.6 656.4l6.0 -1.4v2.8z"/>
<path class="a" d="M925.6 656.4l-6.0 -1.4v2.8z"/>
<text x="902.6" y="653" font-size="11.5" text-anchor="middle">1</text>
<text x="915" y="653" font-size="11.5" text-anchor="middle">6</text>
<path class="t" d="M883 670L901.4 670"/>
<path class="t" d="M883 702.4L901.4 702.4"/>
<path class="t" d="M887 670L887 702.4"/>
<path class="a" d="M887 670l-1.4 6.0h2.8z"/>
<path class="a" d="M887 702.4l-1.4 -6.0h2.8z"/>
<text transform="translate(881,686.2) rotate(-90)" y="4.1" font-size="11.5" text-anchor="middle">Ø18</text>
<path class="t" d="M925.6 674L945 674"/>
<path class="t" d="M925.6 698.6L945 698.6"/>
<path class="t" d="M941 674L941 698.6"/>
<path class="a" d="M941 674l-1.4 6.0h2.8z"/>
<path class="a" d="M941 698.6l-1.4 -6.0h2.8z"/>
<text transform="translate(935,686.2) rotate(-90)" y="4.1" font-size="11.5" text-anchor="middle">Ø12</text>
<rect class="o" x="905.6" y="674" width="20.0" height="24.6"/>
<rect class="o" x="901.4" y="670" width="4.2" height="32.4"/>
<path class="c" d="M898.4 686.2H928.6"/>
<path class="sep" d="M230.4 736.5L230.4 951.5"/>
<path class="sep" d="M697.1 726L697.1 961.5"/>
<path class="sep" d="M12 969.4L383 969.4"/>
<text x="14.4" y="736.5" font-size="12" textLength="35" lengthAdjust="spacingAndGlyphs" style="fill:#1e88d6;stroke:#1e88d6">GSJEA</text>
<text x="14.4" y="751.7" font-size="12" textLength="20.5" lengthAdjust="spacingAndGlyphs">No.:</text>
<text x="35.8" y="751.7" font-size="12" textLength="14" lengthAdjust="spacingAndGlyphs" style="fill:#1e88d6;stroke:#1e88d6">6D</text>
<path class="t" d="M73.3 757.5L73.3 820"/>
<path class="t" d="M159.7 757.5L159.7 820"/>
<path class="t" d="M73.3 760.5L159.7 760.5"/>
<path class="a" d="M73.3 760.5l6.0 -1.4v2.8z"/>
<path class="a" d="M159.7 760.5l-6.0 -1.4v2.8z"/>
<text x="115.7" y="758.5" font-size="11.5" text-anchor="middle">60</text>
<path class="t" d="M87.7 773.5L87.7 820"/>
<path class="t" d="M144.8 773.5L144.8 820"/>
<path class="t" d="M87.7 776.4L144.8 776.4"/>
<path class="a" d="M87.7 776.4l6.0 -1.4v2.8z"/>
<path class="a" d="M144.8 776.4l-6.0 -1.4v2.8z"/>
<text x="115.7" y="774.4" font-size="11.5" text-anchor="middle">40</text>
<path class="t" d="M101.8 790.5L101.8 807"/>
<path class="t" d="M130.6 790.5L130.6 807"/>
<path class="t" d="M101.8 793.3L130.6 793.3"/>
<path class="a" d="M101.8 793.3l6.0 -1.4v2.8z"/>
<path class="a" d="M130.6 793.3l-6.0 -1.4v2.8z"/>
<text x="115.7" y="791.6" font-size="11.5" text-anchor="middle">20</text>
<text x="177.8" y="791.6" font-size="11.5" text-anchor="middle" textLength="13" lengthAdjust="spacingAndGlyphs">R9</text>
<path class="t" d="M169.3 793.8L185.7 793.8"/>
<path class="t" d="M169.3 793.8L157 808.6"/>
<path class="a" transform="translate(156.6,809.1) rotate(130)" d="M0 0l-6.0 -1.4v2.8z"/>
<path class="t" d="M57 815.3L86 815.3"/>
<path class="t" d="M57 824.4L86 824.4"/>
<path class="t" d="M60.1 787L60.1 833.7"/>
<path class="a" d="M60.1 815.3l-1.4 -6.0h2.8z"/>
<path class="a" d="M60.1 824.4l-1.4 6.0h2.8z"/>
<text transform="translate(54.3,795.3) rotate(-90)" y="4.1" font-size="11.5" text-anchor="middle">6.5</text>
<path class="t" d="M150 807.2L178.5 807.2"/>
<path class="t" d="M150 833L178.5 833"/>
<path class="t" d="M175.6 807.2L175.6 833"/>
<path class="a" d="M175.6 807.2l-1.4 6.0h2.8z"/>
<path class="a" d="M175.6 833l-1.4 -6.0h2.8z"/>
<text transform="translate(169.8,819.3) rotate(-90)" y="4.1" font-size="11.5" text-anchor="middle">18</text>
<path class="t" d="M84.6 826L84.6 848"/>
<path class="t" d="M91 826L91 848"/>
<path class="t" d="M73.3 845.6L102.3 845.6"/>
<path class="a" d="M84.6 845.6l-6.0 -1.4v2.8z"/>
<path class="a" d="M91 845.6l6.0 -1.4v2.8z"/>
<text x="87.7" y="843.1" font-size="11.5" text-anchor="middle">5</text>
<path class="t" d="M105.4 833L105.4 848"/>
<path class="t" d="M127.6 833L127.6 848"/>
<path class="t" d="M105.4 845.6L127.6 845.6"/>
<path class="a" d="M105.4 845.6l6.0 -1.4v2.8z"/>
<path class="a" d="M127.6 845.6l-6.0 -1.4v2.8z"/>
<text x="116.2" y="843.1" font-size="11.5" text-anchor="middle">16</text>
<rect class="o" x="73.3" y="807.2" width="86.4" height="25.8" rx="12.9"/>
<path class="on" d="M101.8 807.2L101.8 833"/>
<path class="on" d="M130.6 807.2L130.6 833"/>
<path class="d" d="M105.4 808L105.4 832.5"/>
<path class="d" d="M127.6 808L127.6 832.5"/>
<circle class="ow" cx="116.2" cy="820.1" r="4.3"/>
<rect class="ow" x="79.6" y="814.8" width="16.7" height="10.4" rx="5.2"/>
<rect class="ow" x="136.9" y="814.8" width="16.7" height="10.4" rx="5.2"/>
<path class="c" d="M70 820.1H163M116.2 803V837"/>
<path class="t" d="M87.95 812V828M145.25 812V828"/>
<path class="t" d="M162 878L196 878"/>
<path class="t" d="M162 881.2L179 881.2"/>
<path class="t" d="M175.6 855.2L175.6 891.8"/>
<path class="a" d="M175.6 878l-1.4 -6.0h2.8z"/>
<path class="a" d="M175.6 881.2l-1.4 6.0h2.8z"/>
<text transform="translate(170.5,861) rotate(-90)" y="4.1" font-size="11.5" text-anchor="middle">2</text>
<path class="t" d="M131.5 895.6L196 895.6"/>
<path class="t" d="M192 852.7L192 904.5"/>
<path class="a" d="M192 878l-1.4 -6.0h2.8z"/>
<path class="a" d="M192 895.6l-1.4 6.0h2.8z"/>
<text transform="translate(186.5,861) rotate(-90)" y="4.1" font-size="11.5" text-anchor="middle">12</text>
<path class="t" d="M57 878L73.3 878"/>
<path class="t" d="M57 915.9L111.7 915.9"/>
<path class="t" d="M60.1 878L60.1 915.9"/>
<path class="a" d="M60.1 878l-1.4 6.0h2.8z"/>
<path class="a" d="M60.1 915.9l-1.4 -6.0h2.8z"/>
<text transform="translate(51.8,897.4) rotate(-90)" y="4.1" font-size="11.5" text-anchor="middle">26.3</text>
<path class="t" d="M73.3 886L73.3 950"/>
<path class="a" d="M73.3 895.6l-1.4 -6.0h2.8z"/>
<path class="a" d="M73.3 915.9l-1.4 6.0h2.8z"/>
<path class="t" d="M70 895.6L102 895.6"/>
<text transform="translate(68.2,939.9) rotate(-90)" y="4.1" font-size="11.5" text-anchor="middle">14.3</text>
<path class="t" d="M87 911.6L111.7 911.6"/>
<path class="t" d="M90.2 886L90.2 945"/>
<path class="a" d="M90.2 895.6l-1.4 -6.0h2.8z"/>
<path class="a" d="M90.2 911.6l-1.4 6.0h2.8z"/>
<text transform="translate(84.6,932.8) rotate(-90)" y="4.1" font-size="11.5" text-anchor="middle">11.6</text>
<path class="t" d="M111.7 915.9L111.7 934.5"/>
<path class="t" d="M120.8 915.9L120.8 934.5"/>
<path class="t" d="M101.1 931.8L150.3 931.8"/>
<path class="a" d="M111.7 931.8l-6.0 -1.4v2.8z"/>
<path class="a" d="M120.8 931.8l6.0 -1.4v2.8z"/>
<text x="142" y="929.8" font-size="11.5" text-anchor="middle">Ø6</text>
<path class="o" d="M112.0 895.6V911.3l0.9 0.9v1l-0.9 0.7v1.2l0.8 0.8H119.7l0.8 -0.8v-1.2l-0.9 -0.7v-1l0.9 -0.9V895.6Z"/>
<rect x="112.9" y="912.2" width="6.7" height="1.9" fill="#666"/>
<path class="o" d="M74.95 878H102.3Q104.3 878 104.6 880L106.6 891.1Q106.9 892.3 108.1 892.3H124.3Q125.5 892.3 125.8 891.1L127.8 880Q128.1 878 130.1 878H158.04999999999998a1.65 1.65 0 0 1 0 3.3H132.4Q131.4 881.3 131.1 882.3L129.2 893.2Q128.8 895.6 126.4 895.6H106.0Q103.6 895.6 103.2 893.2L101.3 882.3Q101.0 881.3 100.0 881.3H74.95a1.65 1.65 0 0 1 0 -3.3Z"/>
<path class="c" d="M116.25 888V919"/>
<path class="t" d="M87.95 873V885M145.25 873V885"/>
<text x="254" y="738.3" font-size="12" textLength="61.9" lengthAdjust="spacingAndGlyphs">Accessories</text>
<circle cx="259" cy="754.3000000000001" r="5" fill="none" stroke="#333" stroke-width="0.8"/>
<text x="259" y="757.2" font-size="8.5" text-anchor="middle">1</text>
<text x="265.5" y="758.6" font-size="12" textLength="117.4" lengthAdjust="spacingAndGlyphs">E Type Retaining Ring</text>
<g transform="translate(280,797.9)"><path class="ol" d="M-12.1 10.9A16.3 16.3 0 1 1 12.1 10.9L6.95 5.05A8.6 8.6 0 0 0 8.5 0H11.6A11.6 11.6 0 0 0 3.5 -11.05L2.3 -8.3H-2.3L-3.5 -11.05A11.6 11.6 0 0 0 -11.6 0H-8.5A8.6 8.6 0 0 0 -6.95 5.05Z"/><path class="c" d="M-19.6 0H19.9M0 -20V19.8"/></g>
<circle cx="259" cy="839.6" r="5" fill="none" stroke="#333" stroke-width="0.8"/>
<text x="259" y="842.5" font-size="8.5" text-anchor="middle">2</text>
<text x="265.5" y="843.9" font-size="12" textLength="39.8" lengthAdjust="spacingAndGlyphs">Washer</text>
<text x="280" y="866.7" font-size="11.5" text-anchor="middle" textLength="30.3" lengthAdjust="spacingAndGlyphs">Ø12.5</text>
<path class="t" d="M267.75 867.1L267.75 914.1"/>
<path class="t" d="M292.25 867.1L292.25 914.1"/>
<path class="t" d="M267.75 871.1L292.25 871.1"/>
<path class="a" d="M267.75 871.1l6.0 -1.4v2.8z"/>
<path class="a" d="M292.25 871.1l-6.0 -1.4v2.8z"/>
<text x="280" y="882.4" font-size="11.5" text-anchor="middle" textLength="24.5" lengthAdjust="spacingAndGlyphs">Ø6.4</text>
<path class="t" d="M272.7 884.1L272.7 914.1"/>
<path class="t" d="M287.3 884.1L287.3 914.1"/>
<path class="t" d="M262.3 888.1L298.2 888.1"/>
<path class="a" d="M272.7 888.1l-6.0 -1.4v2.8z"/>
<path class="a" d="M287.3 888.1l6.0 -1.4v2.8z"/>
<circle class="ol" cx="280" cy="914.1" r="12.25"/>
<circle class="ow" cx="280" cy="914.1" r="7.3"/>
<path class="c" d="M265.75 914.1H294.25M280 898.85V929.35"/>
<path class="t" d="M318.4 884.1L318.4 902"/>
<path class="t" d="M321.5 884.1L321.5 902"/>
<path class="t" d="M308.3 888.1L350 888.1"/>
<path class="a" d="M318.4 888.1l-6.0 -1.4v2.8z"/>
<path class="a" d="M321.5 888.1l6.0 -1.4v2.8z"/>
<text x="333.6" y="886.9" font-size="11.5" textLength="15.7" lengthAdjust="spacingAndGlyphs">1.6</text>
<rect x="318.4" y="902" width="3.1" height="24.7" rx="0.8" fill="#d8d8d8" stroke="#333" stroke-width="0.9"/>
<text x="460.9" y="736.4" font-size="12" textLength="35" lengthAdjust="spacingAndGlyphs" style="fill:#1e88d6;stroke:#1e88d6">GSJEA</text>
<text x="460.9" y="751.5" font-size="12" textLength="35" lengthAdjust="spacingAndGlyphs" style="fill:#1e88d6;stroke:#1e88d6">GSJEB</text>
<text x="460.9" y="767" font-size="12" textLength="20.5" lengthAdjust="spacingAndGlyphs">No.:</text>
<text x="482.2" y="767" font-size="12" textLength="14" lengthAdjust="spacingAndGlyphs" style="fill:#1e88d6;stroke:#1e88d6">8D</text>
<path class="t" d="M539.8 758L539.8 820"/>
<path class="t" d="M631.2 758L631.2 820"/>
<path class="t" d="M539.8 761L631.2 761"/>
<path class="a" d="M539.8 761l6.0 -1.4v2.8z"/>
<path class="a" d="M631.2 761l-6.0 -1.4v2.8z"/>
<text x="586" y="758.9" font-size="11.5" text-anchor="middle">75</text>
<path class="t" d="M554.8 775L554.8 820"/>
<path class="t" d="M616.1 775L616.1 820"/>
<path class="t" d="M554.8 778L616.1 778"/>
<path class="a" d="M554.8 778l6.0 -1.4v2.8z"/>
<path class="a" d="M616.1 778l-6.0 -1.4v2.8z"/>
<text x="586" y="775.9" font-size="11.5" text-anchor="middle">50</text>
<path class="t" d="M571.8 791.5L571.8 808"/>
<path class="t" d="M599.2 791.5L599.2 808"/>
<path class="t" d="M571.8 794.4L599.2 794.4"/>
<path class="a" d="M571.8 794.4l6.0 -1.4v2.8z"/>
<path class="a" d="M599.2 794.4l-6.0 -1.4v2.8z"/>
<text x="586" y="792.6" font-size="11.5" text-anchor="middle">22</text>
<path class="t" d="M523.5 816.3L553 816.3"/>
<path class="t" d="M523.5 823.9L553 823.9"/>
<path class="t" d="M526.6 787.5L526.6 834"/>
<path class="a" d="M526.6 816.3l-1.4 -6.0h2.8z"/>
<path class="a" d="M526.6 823.9l-1.4 6.0h2.8z"/>
<text transform="translate(519.8,796.6) rotate(-90)" y="4.1" font-size="11.5" text-anchor="middle">6.5</text>
<path class="t" d="M625 808L652 808"/>
<path class="t" d="M625 832.1L652 832.1"/>
<path class="t" d="M649 808L649 832.1"/>
<path class="a" d="M649 808l-1.4 6.0h2.8z"/>
<path class="a" d="M649 832.1l-1.4 -6.0h2.8z"/>
<text transform="translate(642.4,820.4) rotate(-90)" y="4.1" font-size="11.5" text-anchor="middle">20</text>
<path class="t" d="M551.8 824L551.8 851"/>
<path class="t" d="M558.6 824L558.6 851"/>
<path class="t" d="M541.7 848.6L578.6 848.6"/>
<path class="a" d="M551.8 848.6l-6.0 -1.4v2.8z"/>
<path class="a" d="M558.6 848.6l6.0 -1.4v2.8z"/>
<text x="572.6" y="846.4" font-size="11.5" text-anchor="middle">5</text>
<rect class="o" x="539.8" y="808" width="91.4" height="24.1" rx="12.05"/>
<path class="on" d="M568.2 808L568.2 832.1"/>
<path class="on" d="M602.7 808L602.7 832.1"/>
<path class="d" d="M571.8 809L571.8 831.5"/>
<path class="d" d="M599.2 809L599.2 831.5"/>
<circle class="d" cx="585.5" cy="820.1" r="8.2"/>
<circle class="ow" cx="585.5" cy="820.1" r="4.1"/>
<rect class="ow" x="548.2" y="816.8" width="14.9" height="6.6" rx="3.3"/>
<rect class="ow" x="608.4" y="816.8" width="14.3" height="6.6" rx="3.3"/>
<path class="c" d="M536 820.1H635M585.5 804V836"/>
<path class="t" d="M555.65 813V827M615.55 813V827"/>
<path class="t" d="M633 880.6L667.5 880.6"/>
<path class="t" d="M633 884.7L650 884.7"/>
<path class="t" d="M647 854.6L647 895.6"/>
<path class="a" d="M647 880.6l-1.4 -6.0h2.8z"/>
<path class="a" d="M647 884.7l-1.4 6.0h2.8z"/>
<text transform="translate(642.9,861.4) rotate(-90)" y="4.1" font-size="11.5" text-anchor="middle">3.2</text>
<path class="t" d="M603 897.8L667.5 897.8"/>
<path class="t" d="M664.3 854.6L664.3 908"/>
<path class="a" d="M664.3 880.6l-1.4 -6.0h2.8z"/>
<path class="a" d="M664.3 897.8l-1.4 6.0h2.8z"/>
<text transform="translate(659.4,863.3) rotate(-90)" y="4.1" font-size="11.5" text-anchor="middle">14</text>
<path class="t" d="M523.5 880.6L539.8 880.6"/>
<path class="t" d="M523.5 916.2L581.4 916.2"/>
<path class="t" d="M526.6 880.6L526.6 916.2"/>
<path class="a" d="M526.6 880.6l-1.4 6.0h2.8z"/>
<path class="a" d="M526.6 916.2l-1.4 -6.0h2.8z"/>
<text transform="translate(520.6,898.9) rotate(-90)" y="4.1" font-size="11.5" text-anchor="middle">28.8</text>
<path class="t" d="M544.4 887L544.4 951"/>
<path class="a" d="M544.4 897.8l-1.4 -6.0h2.8z"/>
<path class="a" d="M544.4 916.2l-1.4 6.0h2.8z"/>
<path class="t" d="M541 897.8L569 897.8"/>
<text transform="translate(538.9,936.1) rotate(-90)" y="4.1" font-size="11.5" text-anchor="middle">14.8</text>
<path class="t" d="M556.5 912L581.4 912"/>
<path class="t" d="M559.5 887L559.5 947"/>
<path class="a" d="M559.5 897.8l-1.4 -6.0h2.8z"/>
<path class="a" d="M559.5 912l-1.4 6.0h2.8z"/>
<text transform="translate(554,935.3) rotate(-90)" y="4.1" font-size="11.5" text-anchor="middle">11.8</text>
<path class="t" d="M581.4 916.2L581.4 935.5"/>
<path class="t" d="M590.1 916.2L590.1 935.5"/>
<path class="t" d="M570.4 932.6L616.9 932.6"/>
<path class="a" d="M581.4 932.6l-6.0 -1.4v2.8z"/>
<path class="a" d="M590.1 932.6l6.0 -1.4v2.8z"/>
<text x="609.3" y="930.4" font-size="11.5" text-anchor="middle">Ø8</text>
<path class="o" d="M581.7 897.8V911.6l0.9 0.9v1l-0.9 0.7v1.2l0.8 0.8H589.0l0.8 -0.8v-1.2l-0.9 -0.7v-1l0.9 -0.9V897.8Z"/>
<rect x="582.6" y="912.5" width="6.3" height="1.9" fill="#666"/>
<rect class="o" x="577.3" y="890.7" width="16.9" height="3.6" rx="1"/>
<path class="o" d="M541.6999999999999 880.6H570.1Q572.1 880.6 572.4 882.6L574.4 892.8Q574.7 894.0 575.9 894.0H595.0Q596.2 894.0 596.5 892.8L598.5 882.6Q598.8 880.6 600.8 880.6H629.3000000000001a1.9 1.9 0 0 1 0 3.8H603.6Q602.6 884.4 602.3 885.4L600.4 895.4Q600.0 897.8 597.6 897.8H573.3Q570.9 897.8 570.5 895.4L568.6 885.4Q568.3 884.4 567.3 884.4H541.6999999999999a1.9 1.9 0 0 1 0 -3.8Z"/>
<path class="c" d="M585.75 886V919"/>
<path class="t" d="M555.65 876V888M615.55 876V888"/>
<text x="731" y="726.7" font-size="12" textLength="61.9" lengthAdjust="spacingAndGlyphs">Accessories</text>
<circle cx="736" cy="742.9000000000001" r="5" fill="none" stroke="#333" stroke-width="0.8"/>
<text x="736" y="745.8" font-size="8.5" text-anchor="middle">1</text>
<text x="742.5" y="747.2" font-size="12" textLength="117.2" lengthAdjust="spacingAndGlyphs">E Type Retaining Ring</text>
<g transform="translate(768.9,774.2)"><path class="ol" d="M-12.1 10.9A16.3 16.3 0 1 1 12.1 10.9L6.95 5.05A8.6 8.6 0 0 0 8.5 0H11.6A11.6 11.6 0 0 0 3.5 -11.05L2.3 -8.3H-2.3L-3.5 -11.05A11.6 11.6 0 0 0 -11.6 0H-8.5A8.6 8.6 0 0 0 -6.95 5.05Z"/><path class="c" d="M-19.6 0H19.9M0 -20V19.8"/></g>
<circle cx="736" cy="800.8000000000001" r="5" fill="none" stroke="#333" stroke-width="0.8"/>
<text x="736" y="803.7" font-size="8.5" text-anchor="middle">2</text>
<text x="742.5" y="805.1" font-size="12" textLength="39.6" lengthAdjust="spacingAndGlyphs">Washer</text>
<text x="768.9" y="817.7" font-size="11.5" text-anchor="middle" textLength="20.5" lengthAdjust="spacingAndGlyphs">Ø17</text>
<path class="t" d="M756.4 816L756.4 862.9"/>
<path class="t" d="M781.4 816L781.4 862.9"/>
<path class="t" d="M756.4 820L781.4 820"/>
<path class="a" d="M756.4 820l6.0 -1.4v2.8z"/>
<path class="a" d="M781.4 820l-6.0 -1.4v2.8z"/>
<text x="768.9" y="834" font-size="11.5" text-anchor="middle" textLength="25" lengthAdjust="spacingAndGlyphs">Ø8.4</text>
<path class="t" d="M762.3 832.6L762.3 862.9"/>
<path class="t" d="M775.5 832.6L775.5 862.9"/>
<path class="t" d="M751.3 836.6L786.8 836.6"/>
<path class="a" d="M762.3 836.6l-6.0 -1.4v2.8z"/>
<path class="a" d="M775.5 836.6l6.0 -1.4v2.8z"/>
<circle class="ol" cx="768.9" cy="862.9" r="12.5"/>
<circle class="ow" cx="768.9" cy="862.9" r="6.6"/>
<path class="c" d="M754.4 862.9H783.4M768.9 847.4V878.4"/>
<path class="t" d="M807.4 832.6L807.4 851"/>
<path class="t" d="M810 832.6L810 851"/>
<path class="t" d="M796.6 836.6L838.2 836.6"/>
<path class="a" d="M807.4 836.6l-6.0 -1.4v2.8z"/>
<path class="a" d="M810 836.6l6.0 -1.4v2.8z"/>
<text x="821" y="835.4" font-size="11.5" textLength="16.4" lengthAdjust="spacingAndGlyphs">1.6</text>
<rect x="807.4" y="851" width="2.6" height="23.7" rx="0.8" fill="#d8d8d8" stroke="#333" stroke-width="0.9"/>
<circle cx="736" cy="893.7" r="5" fill="none" stroke="#333" stroke-width="0.8"/>
<text x="736" y="896.6" font-size="8.5" text-anchor="middle">3</text>
<text x="742.5" y="898" font-size="12" textLength="57.5" lengthAdjust="spacingAndGlyphs">POA Collar</text>
<path class="t" d="M761.3 911.5L761.3 930"/>
<path class="t" d="M765.8 911.5L765.8 930"/>
<path class="t" d="M784.2 911.5L784.2 933.4"/>
<path class="t" d="M751.3 915.5L784.2 915.5"/>
<path class="a" d="M761.3 915.5l-6.0 -1.4v2.8z"/>
<path class="a" d="M765.8 915.5l6.0 -1.4v2.8z"/>
<path class="a" d="M784.2 915.5l-6.0 -1.4v2.8z"/>
<text x="763.2" y="912.9" font-size="11.5" text-anchor="middle">1</text>
<text x="776.3" y="912.9" font-size="11.5" text-anchor="middle">10</text>
<path class="t" d="M743.9 930L761.3 930"/>
<path class="t" d="M743.9 959.5L761.3 959.5"/>
<path class="t" d="M747.9 930L747.9 959.5"/>
<path class="a" d="M747.9 930l-1.4 6.0h2.8z"/>
<path class="a" d="M747.9 959.5l-1.4 -6.0h2.8z"/>
<text transform="translate(741.3,944.8) rotate(-90)" y="4.1" font-size="11.5" text-anchor="middle">Ø15</text>
<path class="t" d="M784.2 933.4L802.7 933.4"/>
<path class="t" d="M784.2 955.5L802.7 955.5"/>
<path class="t" d="M798.7 933.4L798.7 955.5"/>
<path class="a" d="M798.7 933.4l-1.4 6.0h2.8z"/>
<path class="a" d="M798.7 955.5l-1.4 -6.0h2.8z"/>
<text transform="translate(791.6,944.8) rotate(-90)" y="4.1" font-size="11.5" text-anchor="middle">Ø10</text>
<rect class="o" x="765.8" y="933.4" width="18.4" height="22.1"/>
<rect class="o" x="761.3" y="930" width="4.5" height="29.5"/>
<path class="c" d="M758.3 944.8H787.2"/>
<path class="t" d="M843.4 910.7L843.4 928.7"/>
<path class="t" d="M847.9 910.7L847.9 928.7"/>
<path class="t" d="M868.4 910.7L868.4 932.6"/>
<path class="t" d="M832.9 914.7L868.4 914.7"/>
<path class="a" d="M843.4 914.7l-6.0 -1.4v2.8z"/>
<path class="a" d="M847.9 914.7l6.0 -1.4v2.8z"/>
<path class="a" d="M868.4 914.7l-6.0 -1.4v2.8z"/>
<text x="845.3" y="911.6" font-size="11.5" text-anchor="middle">1</text>
<text x="857.4" y="911.6" font-size="11.5" text-anchor="middle">6</text>
<path class="t" d="M825.5 928.7L843.4 928.7"/>
<path class="t" d="M825.5 960.8L843.4 960.8"/>
<path class="t" d="M829.5 928.7L829.5 960.8"/>
<path class="a" d="M829.5 928.7l-1.4 6.0h2.8z"/>
<path class="a" d="M829.5 960.8l-1.4 -6.0h2.8z"/>
<text transform="translate(823.7,944.8) rotate(-90)" y="4.1" font-size="11.5" text-anchor="middle">Ø18</text>
<path class="t" d="M868.4 932.6L887.4 932.6"/>
<path class="t" d="M868.4 956.3L887.4 956.3"/>
<path class="t" d="M883.4 932.6L883.4 956.3"/>
<path class="a" d="M883.4 932.6l-1.4 6.0h2.8z"/>
<path class="a" d="M883.4 956.3l-1.4 -6.0h2.8z"/>
<text transform="translate(877.1,944.8) rotate(-90)" y="4.1" font-size="11.5" text-anchor="middle">Ø12</text>
<rect class="o" x="847.9" y="932.6" width="20.5" height="23.7"/>
<rect class="o" x="843.4" y="928.7" width="4.5" height="32.1"/>
<path class="c" d="M840.4 944.8H871.4"/>
<path class="sep" d="M230.4 982.5L230.4 1236.5"/>
<text x="14.4" y="993.3" font-size="12" textLength="34.5" lengthAdjust="spacingAndGlyphs" style="fill:#1e88d6;stroke:#1e88d6">GSJEC</text>
<text x="14.4" y="1008.7" font-size="12" textLength="20.5" lengthAdjust="spacingAndGlyphs">No.:</text>
<text x="35.8" y="1008.7" font-size="12" textLength="13.2" lengthAdjust="spacingAndGlyphs" style="fill:#1e88d6;stroke:#1e88d6">8F</text>
<text x="97.6" y="1050.3" font-size="11.5" text-anchor="middle" textLength="19.5" lengthAdjust="spacingAndGlyphs">R11</text>
<path class="t" d="M87.2 1052L108.1 1052"/>
<path class="t" d="M87.2 1052L80.6 1064.8"/>
<path class="a" transform="translate(80.3,1065.4) rotate(117)" d="M0 0l-6.0 -1.4v2.8z"/>
<path class="t" d="M41.7 1105.6L41.7 1125.3"/>
<path class="t" d="M103.6 1105.6L103.6 1125.3"/>
<path class="t" d="M41.7 1122.3L103.6 1122.3"/>
<path class="a" d="M41.7 1122.3l6.0 -1.4v2.8z"/>
<path class="a" d="M103.6 1122.3l-6.0 -1.4v2.8z"/>
<text x="72.8" y="1121" font-size="11.5" text-anchor="middle">48</text>
<path class="o" d="M41.7 1102.1C53 1098 58.6 1092 58.6 1079.9A14.2 14.2 0 0 1 87 1079.9C87 1092 92.5 1098 103.6 1102.1V1105.6H41.7Z"/>
<path class="on" d="M41.7 1102.1L103.6 1102.1"/>
<circle class="ow" cx="72.8" cy="1079.9" r="6.8"/>
<path class="c" d="M72.8 1060V1110M60 1079.9H86"/>
<path class="t" d="M57 1101V1106M88.6 1101V1106"/>
<path class="t" d="M142.8 1050L142.8 1066"/>
<path class="t" d="M167.3 1050L167.3 1066"/>
<path class="t" d="M142.8 1052.8L167.3 1052.8"/>
<path class="a" d="M142.8 1052.8l6.0 -1.4v2.8z"/>
<path class="a" d="M167.3 1052.8l-6.0 -1.4v2.8z"/>
<text x="155.4" y="1049" font-size="11.5" text-anchor="middle" textLength="22" lengthAdjust="spacingAndGlyphs">19.6</text>
<path class="t" d="M138.5 1105.6L138.5 1125.3"/>
<path class="t" d="M171.8 1105.6L171.8 1125.3"/>
<path class="t" d="M138.5 1122.3L171.8 1122.3"/>
<path class="a" d="M138.5 1122.3l6.0 -1.4v2.8z"/>
<path class="a" d="M171.8 1122.3l-6.0 -1.4v2.8z"/>
<text x="154.6" y="1120.3" font-size="11.5" text-anchor="middle" textLength="22" lengthAdjust="spacingAndGlyphs">25.6</text>
<path class="t" d="M172 1065.4L207 1065.4"/>
<path class="t" d="M172 1105.6L207 1105.6"/>
<path class="t" d="M204.1 1065.4L204.1 1105.6"/>
<path class="a" d="M204.1 1065.4l-1.4 6.0h2.8z"/>
<path class="a" d="M204.1 1105.6l-1.4 -6.0h2.8z"/>
<text transform="translate(198.3,1084.9) rotate(-90)" y="4.1" font-size="11.5" text-anchor="middle">31</text>
<path class="t" d="M176 1079.9L193 1079.9"/>
<path class="t" d="M190 1079.9L190 1105.6"/>
<path class="a" d="M190 1079.9l-1.4 6.0h2.8z"/>
<path class="a" d="M190 1105.6l-1.4 -6.0h2.8z"/>
<text transform="translate(182.4,1092.5) rotate(-90)" y="4.1" font-size="11.5" text-anchor="middle">20</text>
<path class="o" d="M142.8 1073H150.5L152.3 1074.6V1085.2L150.5 1086.8H142.8ZM167.3 1073H159.5L157.7 1074.6V1085.2L159.5 1086.8H167.3Z"/>
<rect class="o" x="152.3" y="1074.6" width="5.4" height="10.6"/>
<rect x="153.6" y="1074.6" width="2.8" height="10.6" fill="#777"/>
<rect class="o" x="135.2" y="1075.2" width="3.3" height="9.4" rx="1"/>
<rect class="o" x="171.8" y="1074.4" width="3.8" height="11" rx="1"/>
<path class="o" d="M138.5 1066.2a.8 .8 0 0 1 .8-.8H142a.8 .8 0 0 1 .8 .8V1101a1.2 1.2 0 0 0 1.2 1.2H166.1a1.2 1.2 0 0 0 1.2-1.2V1066.2a.8 .8 0 0 1 .8-.8H171a.8 .8 0 0 1 .8 .8V1102.5a3.1 3.1 0 0 1-3.1 3.1H141.6a3.1 3.1 0 0 1-3.1-3.1Z"/>
<path class="c" d="M131 1079.9H180M155.1 1062V1110"/>
<text x="47.1" y="1141.8" font-size="11.5" text-anchor="middle" textLength="19.5" lengthAdjust="spacingAndGlyphs">R11</text>
<path class="t" d="M50.5 1153.5L50.5 1186"/>
<path class="t" d="M58.6 1153.5L58.6 1186"/>
<path class="t" d="M39.2 1156.2L68.2 1156.2"/>
<path class="a" d="M50.5 1156.2l-6.0 -1.4v2.8z"/>
<path class="a" d="M58.6 1156.2l6.0 -1.4v2.8z"/>
<text x="54.8" y="1154.4" font-size="11.5" text-anchor="middle">6</text>
<path class="t" d="M86.7 1153.5L86.7 1186"/>
<path class="t" d="M94.7 1153.5L94.7 1186"/>
<path class="t" d="M75.8 1156.2L104.9 1156.2"/>
<path class="a" d="M86.7 1156.2l-6.0 -1.4v2.8z"/>
<path class="a" d="M94.7 1156.2l6.0 -1.4v2.8z"/>
<text x="90.4" y="1154.4" font-size="11.5" text-anchor="middle">6</text>
<path class="t" d="M98 1182.7L123 1182.7"/>
<path class="t" d="M98 1191L123 1191"/>
<path class="t" d="M120 1153.1L120 1201.1"/>
<path class="a" d="M120 1182.7l-1.4 -6.0h2.8z"/>
<path class="a" d="M120 1191l-1.4 6.0h2.8z"/>
<text transform="translate(114.5,1162.5) rotate(-90)" y="4.1" font-size="11.5" text-anchor="middle">6.5</text>
<path class="t" d="M54.8 1192L54.8 1224"/>
<path class="t" d="M90.4 1192L90.4 1224"/>
<path class="t" d="M54.8 1221.3L90.4 1221.3"/>
<path class="a" d="M54.8 1221.3l6.0 -1.4v2.8z"/>
<path class="a" d="M90.4 1221.3l-6.0 -1.4v2.8z"/>
<text x="72.8" y="1219.6" font-size="11.5" text-anchor="middle">28</text>
<rect class="o" x="41.7" y="1170.3" width="61.9" height="32.8" rx="1"/>
<path class="on" d="M41.7 1174.6L103.6 1174.6"/>
<path class="on" d="M41.7 1198.6L103.6 1198.6"/>
<rect class="ow" x="47.1" y="1183.3" width="15.0" height="7.6" rx="3.8"/>
<rect class="ow" x="83.7" y="1183.3" width="15.0" height="7.6" rx="3.8"/>
<path class="t" d="M50.5 1170.3V1192M58.6 1170.3V1192M86.7 1170.3V1192M94.7 1170.3V1192"/>
<rect class="o" x="68.5" y="1167" width="9.2" height="3.3" rx="1.2"/>
<rect class="o" x="67.5" y="1203.1" width="10.8" height="3.1" rx="1.2"/>
<path class="o" d="M66.2 1170.3H80.3V1181.2L78.6 1183V1190.5L80.3 1192.3V1203.1H66.2V1192.3L67.9 1190.5V1183L66.2 1181.2Z"/>
<rect x="67.9" y="1185.3" width="10.7" height="2.9" fill="#777"/>
<rect x="66.2" y="1170.3" width="14.1" height="4.3" fill="#bbb" stroke="#333" stroke-width="0.9"/>
<rect x="66.2" y="1198.6" width="14.1" height="4.5" fill="#bbb" stroke="#333" stroke-width="0.9"/>
<path class="c" d="M38 1186.75H108M73.25 1163V1210"/>
<text x="254" y="993.3" font-size="12" textLength="61.9" lengthAdjust="spacingAndGlyphs">Accessories</text>
<circle cx="259" cy="1009.2" r="5" fill="none" stroke="#333" stroke-width="0.8"/>
<text x="259" y="1012.1" font-size="8.5" text-anchor="middle">1</text>
<text x="265.5" y="1013.5" font-size="12" textLength="117.4" lengthAdjust="spacingAndGlyphs">E Type Retaining Ring</text>
<g transform="translate(302.5,1039.9)"><path class="ol" d="M-12.1 10.9A16.3 16.3 0 1 1 12.1 10.9L6.95 5.05A8.6 8.6 0 0 0 8.5 0H11.6A11.6 11.6 0 0 0 3.5 -11.05L2.3 -8.3H-2.3L-3.5 -11.05A11.6 11.6 0 0 0 -11.6 0H-8.5A8.6 8.6 0 0 0 -6.95 5.05Z"/><path class="c" d="M-19.6 0H19.9M0 -20V19.8"/></g>
<circle cx="259" cy="1076.4" r="5" fill="none" stroke="#333" stroke-width="0.8"/>
<text x="259" y="1079.3" font-size="8.5" text-anchor="middle">2</text>
<text x="265.5" y="1080.7" font-size="12" textLength="17.5" lengthAdjust="spacingAndGlyphs">Pin</text>
<path class="t" d="M266 1103.3L284 1103.3"/>
<path class="t" d="M266 1113.5L284 1113.5"/>
<path class="t" d="M269.2 1092.5L269.2 1141.8"/>
<path class="a" d="M269.2 1103.3l-1.4 -6.0h2.8z"/>
<path class="a" d="M269.2 1113.5l-1.4 6.0h2.8z"/>
<text transform="translate(264.1,1134.2) rotate(-90)" y="4.1" font-size="11.5" text-anchor="middle">Ø8</text>
<path class="t" d="M329.3 1097L350.5 1097"/>
<path class="t" d="M329.3 1119.8L350.5 1119.8"/>
<path class="t" d="M347.5 1097L347.5 1119.8"/>
<path class="a" d="M347.5 1097l-1.4 6.0h2.8z"/>
<path class="a" d="M347.5 1119.8l-1.4 -6.0h2.8z"/>
<text transform="translate(340.7,1108.3) rotate(-90)" y="4.1" font-size="11.5" text-anchor="middle">Ø12</text>
<path class="t" d="M290.6 1113.5L290.6 1139.5"/>
<path class="t" d="M324 1119.8L324 1139.5"/>
<path class="t" d="M290.6 1136.7L324 1136.7"/>
<path class="a" d="M290.6 1136.7l6.0 -1.4v2.8z"/>
<path class="a" d="M324 1136.7l-6.0 -1.4v2.8z"/>
<text x="307.6" y="1134.9" font-size="11.5" text-anchor="middle">26</text>
<path class="t" d="M329.3 1119.8L329.3 1156"/>
<path class="t" d="M324 1136.7L349 1136.7"/>
<path class="a" d="M329.3 1136.7l6.0 -1.4v2.8z"/>
<text x="344.2" y="1134.9" font-size="11.5" text-anchor="middle">2</text>
<path class="t" d="M283 1113.5L283 1156"/>
<path class="t" d="M283 1153.1L329.3 1153.1"/>
<path class="a" d="M283 1153.1l6.0 -1.4v2.8z"/>
<path class="a" d="M329.3 1153.1l-6.0 -1.4v2.8z"/>
<text x="307.6" y="1151.4" font-size="11.5" text-anchor="middle">31</text>
<path class="o" d="M283 1105a1.2 1.2 0 0 1 1.2-1.2H289.4L290.6 1103.3H324V1113.5H290.6L289.4 1113H284.2a1.2 1.2 0 0 1-1.2-1.2Z"/>
<path class="on" d="M290.6 1103.3L290.6 1113.5"/>
<rect class="o" x="324" y="1097" width="5.3" height="22.8" rx="0.8"/>
<path class="c" d="M280 1108.4H333"/>
<circle cx="259" cy="1175.4" r="5" fill="none" stroke="#333" stroke-width="0.8"/>
<text x="259" y="1178.3" font-size="8.5" text-anchor="middle">3</text>
<text x="265.5" y="1179.7" font-size="12" textLength="57.5" lengthAdjust="spacingAndGlyphs">POA Collar</text>
<path class="t" d="M292.4 1195.1L292.4 1213.3"/>
<path class="t" d="M297 1195.1L297 1213.3"/>
<path class="t" d="M315.1 1195.1L315.1 1217"/>
<path class="t" d="M281.8 1199.1L315.1 1199.1"/>
<path class="a" d="M292.4 1199.1l-6.0 -1.4v2.8z"/>
<path class="a" d="M297 1199.1l6.0 -1.4v2.8z"/>
<path class="a" d="M315.1 1199.1l-6.0 -1.4v2.8z"/>
<text x="294.9" y="1195.6" font-size="11.5" text-anchor="middle">1</text>
<text x="306.6" y="1195.6" font-size="11.5" text-anchor="middle">8</text>
<path class="t" d="M274.8 1213.3L292.4 1213.3"/>
<path class="t" d="M274.8 1242.8L292.4 1242.8"/>
<path class="t" d="M278.8 1213.3L278.8 1242.8"/>
<path class="a" d="M278.8 1213.3l-1.4 6.0h2.8z"/>
<path class="a" d="M278.8 1242.8l-1.4 -6.0h2.8z"/>
<text transform="translate(272.4,1228.0) rotate(-90)" y="4.1" font-size="11.5" text-anchor="middle">Ø15</text>
<path class="t" d="M315.1 1217L333 1217"/>
<path class="t" d="M315.1 1239L333 1239"/>
<path class="t" d="M329 1217L329 1239"/>
<path class="a" d="M329 1217l-1.4 6.0h2.8z"/>
<path class="a" d="M329 1239l-1.4 -6.0h2.8z"/>
<text transform="translate(322.2,1228.0) rotate(-90)" y="4.1" font-size="11.5" text-anchor="middle">Ø10</text>
<rect class="o" x="297" y="1217" width="18.1" height="22"/>
<rect class="o" x="292.4" y="1213.3" width="4.6" height="29.5"/>
<path class="c" d="M289.4 1228.0H318.1"/>
<rect x="0" y="1291.5" width="950" height="20.0" fill="#e6e6e6"/>
<rect x="476" y="1311.5" width="474" height="294.8399999999999" fill="#dff0fc"/>
<path d="M0 1291.5H950M0 1311.5H950M0 1606.34H950M0 1479.98H950M0 1564.22H950M238.5 1332.56H476M238.5 1353.62H476M238.5 1374.68H476M238.5 1395.74H476M238.5 1416.8H476M238.5 1437.86H476M238.5 1458.92H476M238.5 1501.04H476M238.5 1522.1H476M238.5 1543.16H476M476 1395.74H950M713.5 1332.56H950M713.5 1416.8H950M713.5 1501.04H950" stroke="#707070" stroke-width="1.3" fill="none"/>
<path d="M238.5 1291.5V1606.34M476 1291.5V1606.34M713.5 1291.5V1606.34" stroke="#707070" stroke-width="1.3" fill="none"/>
<text x="119.2" y="1306.5" font-size="14.0" text-anchor="middle" textLength="31.5" lengthAdjust="spacingAndGlyphs">Code</text>
<text x="357" y="1306.5" font-size="14.0" text-anchor="middle" textLength="21.5" lengthAdjust="spacingAndGlyphs">No.</text>
<text x="594.8" y="1306.5" font-size="14.0" text-anchor="middle" textLength="200" lengthAdjust="spacingAndGlyphs">Applicable Gas Spring Numbers</text>
<text x="831.3" y="1306.5" font-size="14.0" text-anchor="middle" textLength="62" lengthAdjust="spacingAndGlyphs">Weight(g)</text>
<text x="119.4" y="1400.6" font-size="13.5" text-anchor="middle" textLength="40" lengthAdjust="spacingAndGlyphs" style="fill:#1e88d6;stroke:#1e88d6">GSJEA</text>
<text x="119.4" y="1527" font-size="13.5" text-anchor="middle" textLength="40" lengthAdjust="spacingAndGlyphs" style="fill:#1e88d6;stroke:#1e88d6">GSJEB</text>
<text x="119.4" y="1590" font-size="13.5" text-anchor="middle" textLength="40" lengthAdjust="spacingAndGlyphs" style="fill:#1e88d6;stroke:#1e88d6">GSJEC</text>
<text x="357" y="1327.1" font-size="13.5" text-anchor="middle" textLength="15.5" lengthAdjust="spacingAndGlyphs" style="fill:#1e88d6;stroke:#1e88d6">6A</text>
<text x="357" y="1348.2" font-size="13.5" text-anchor="middle" textLength="15.5" lengthAdjust="spacingAndGlyphs" style="fill:#1e88d6;stroke:#1e88d6">6B</text>
<text x="357" y="1369.2" font-size="13.5" text-anchor="middle" textLength="15.5" lengthAdjust="spacingAndGlyphs" style="fill:#1e88d6;stroke:#1e88d6">6C</text>
<text x="357" y="1390.3" font-size="13.5" text-anchor="middle" textLength="15.5" lengthAdjust="spacingAndGlyphs" style="fill:#1e88d6;stroke:#1e88d6">6D</text>
<text x="357" y="1411.3" font-size="13.5" text-anchor="middle" textLength="15.5" lengthAdjust="spacingAndGlyphs" style="fill:#1e88d6;stroke:#1e88d6">8A</text>
<text x="357" y="1432.4" font-size="13.5" text-anchor="middle" textLength="15.5" lengthAdjust="spacingAndGlyphs" style="fill:#1e88d6;stroke:#1e88d6">8B</text>
<text x="357" y="1453.5" font-size="13.5" text-anchor="middle" textLength="15.5" lengthAdjust="spacingAndGlyphs" style="fill:#1e88d6;stroke:#1e88d6">8C</text>
<text x="357" y="1474.5" font-size="13.5" text-anchor="middle" textLength="15.5" lengthAdjust="spacingAndGlyphs" style="fill:#1e88d6;stroke:#1e88d6">8D</text>
<text x="357" y="1495.6" font-size="13.5" text-anchor="middle" textLength="15.5" lengthAdjust="spacingAndGlyphs" style="fill:#1e88d6;stroke:#1e88d6">8A</text>
<text x="357" y="1516.6" font-size="13.5" text-anchor="middle" textLength="15.5" lengthAdjust="spacingAndGlyphs" style="fill:#1e88d6;stroke:#1e88d6">8B</text>
<text x="357" y="1537.7" font-size="13.5" text-anchor="middle" textLength="15.5" lengthAdjust="spacingAndGlyphs" style="fill:#1e88d6;stroke:#1e88d6">8C</text>
<text x="357" y="1558.8" font-size="13.5" text-anchor="middle" textLength="15.5" lengthAdjust="spacingAndGlyphs" style="fill:#1e88d6;stroke:#1e88d6">8D</text>
<text x="357" y="1590" font-size="13.5" text-anchor="middle" textLength="15" lengthAdjust="spacingAndGlyphs" style="fill:#1e88d6;stroke:#1e88d6">8F</text>
<text x="481.7" y="1350.8" font-size="13.5" textLength="214" lengthAdjust="spacingAndGlyphs">GSJDA-15049/15069/15089/15099</text>
<text x="481.7" y="1367" font-size="13.5" textLength="214" lengthAdjust="spacingAndGlyphs">GSJDA-18099/18120/18150/18200</text>
<text x="481.7" y="1435" font-size="13.5" textLength="170.5" lengthAdjust="spacingAndGlyphs">GSJDA-22250/22270/22290</text>
<text x="481.7" y="1451.3" font-size="13.5" textLength="127.5" lengthAdjust="spacingAndGlyphs">GSJDA-22300/22360</text>
<text x="481.7" y="1494.3" font-size="13.5" textLength="214" lengthAdjust="spacingAndGlyphs">GSJDF-15050/15080/15090/15100</text>
<text x="481.7" y="1510.8" font-size="13.5" textLength="127.5" lengthAdjust="spacingAndGlyphs">GSJDF-18100/18150</text>
<text x="481.7" y="1527" font-size="13.5" textLength="170.5" lengthAdjust="spacingAndGlyphs">GSJDF-22050/22080/22090</text>
<text x="481.7" y="1543.2" font-size="13.5" textLength="214" lengthAdjust="spacingAndGlyphs">GSJDF-22100/22120/22130/22150</text>
<text x="481.7" y="1559.4" font-size="13.5" textLength="214" lengthAdjust="spacingAndGlyphs">GSJDF-22180/22200/22250/22300</text>
<text x="481.7" y="1582" font-size="13.5" textLength="127.5" lengthAdjust="spacingAndGlyphs">GSJDF-27150/27200</text>
<text x="481.7" y="1598.6" font-size="13.5" textLength="127.5" lengthAdjust="spacingAndGlyphs">GSJDF-27250/27300</text>
<text x="831.3" y="1327.4" font-size="13.5" text-anchor="middle" textLength="15" lengthAdjust="spacingAndGlyphs">15</text>
<text x="831.3" y="1369" font-size="13.5" text-anchor="middle" textLength="15" lengthAdjust="spacingAndGlyphs">49</text>
<text x="831.3" y="1411.6" font-size="13.5" text-anchor="middle" textLength="15" lengthAdjust="spacingAndGlyphs">61</text>
<text x="831.3" y="1453.8" font-size="13.5" text-anchor="middle" textLength="15" lengthAdjust="spacingAndGlyphs">53</text>
<text x="831.3" y="1495.8" font-size="13.5" text-anchor="middle" textLength="15" lengthAdjust="spacingAndGlyphs">62</text>
<text x="831.3" y="1538" font-size="13.5" text-anchor="middle" textLength="15" lengthAdjust="spacingAndGlyphs">54</text>
<text x="831.3" y="1589.8" font-size="13.5" text-anchor="middle" textLength="15" lengthAdjust="spacingAndGlyphs">67</text>
<rect x="0.5" y="1634.5" width="949" height="70.5" fill="#fff" stroke="#6a6a6a" stroke-width="1.1"/>
<text x="15.6" y="1666.5" font-size="16" textLength="92.5" lengthAdjust="spacingAndGlyphs" style="stroke-width:.6px">Part Number</text>
<text x="15.6" y="1684.4" font-size="16" textLength="61.5" lengthAdjust="spacingAndGlyphs" style="stroke-width:.6px">Example</text>
<rect x="123.3" y="1648.3" width="67" height="24" fill="#fff" stroke="#555" stroke-width="1"/>
<rect x="228.5" y="1648.3" width="66.3" height="24" fill="#fff" stroke="#555" stroke-width="1"/>
<text x="156.8" y="1665.3" font-size="14.0" text-anchor="middle" textLength="31.5" lengthAdjust="spacingAndGlyphs">Code</text>
<text x="261.6" y="1665.3" font-size="14.0" text-anchor="middle" textLength="20.5" lengthAdjust="spacingAndGlyphs">No.</text>
<path class="t" d="M197 1660.3L221 1660.3"/>
<path d="M197 1686.3H221" stroke="#7fbde9" stroke-width="1" fill="none"/>
<text x="156.8" y="1690.6" font-size="13.5" text-anchor="middle" textLength="40" lengthAdjust="spacingAndGlyphs" style="fill:#1e88d6;stroke:#1e88d6">GSJEA</text>
<text x="261.7" y="1690.6" font-size="13.5" text-anchor="middle" textLength="15.5" lengthAdjust="spacingAndGlyphs" style="fill:#1e88d6;stroke:#1e88d6">6A</text>
</svg>
</body></html>
